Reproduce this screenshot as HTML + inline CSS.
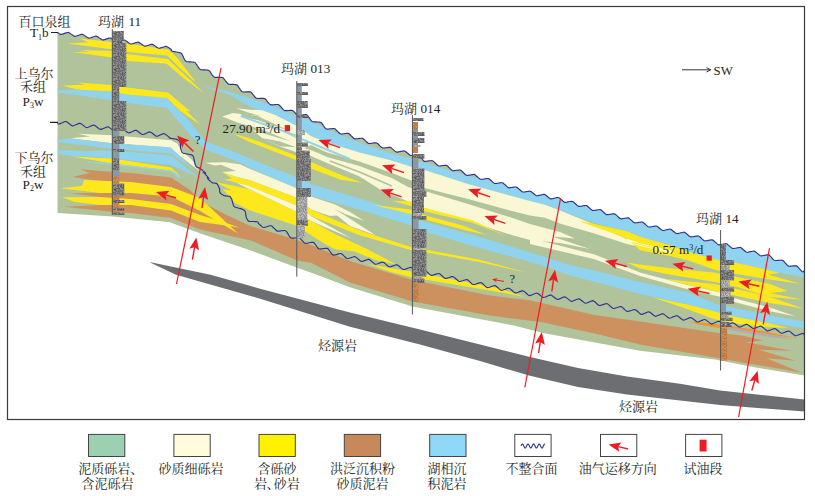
<!DOCTYPE html>
<html><head><meta charset="utf-8"><title>fig</title>
<style>html,body{margin:0;padding:0;background:#fff}svg{display:block}text{font-family:"Liberation Serif",serif;fill:#231f20}text.cjk{font-family:"Liberation Serif","Noto Serif CJK SC",serif;font-size:13px}</style>
</head><body>
<svg width="815" height="496" viewBox="0 0 815 496">
<rect width="815" height="496" fill="#fff"/>
<defs><pattern id="nd" width="12" height="12" patternUnits="userSpaceOnUse"><rect width="12" height="12" fill="#88888a"/><path fill="#5a5a5c" d="M2 0h1v1h-1zM5 0h1v1h-1zM2 1h1v1h-1zM2 2h1v1h-1zM3 2h1v1h-1zM4 3h1v1h-1zM1 4h1v1h-1zM1 5h1v1h-1zM3 5h1v1h-1zM6 5h1v1h-1zM10 5h1v1h-1zM0 6h1v1h-1zM1 7h1v1h-1zM8 8h1v1h-1zM11 8h1v1h-1zM6 9h1v1h-1zM7 9h1v1h-1zM7 10h1v1h-1z"/><path fill="#66666a" d="M7 0h1v1h-1zM0 1h1v1h-1zM9 1h1v1h-1zM10 3h1v1h-1zM3 4h1v1h-1zM3 6h1v1h-1zM10 6h1v1h-1zM3 7h1v1h-1zM10 7h1v1h-1zM3 8h1v1h-1zM9 8h1v1h-1zM2 10h1v1h-1zM10 11h1v1h-1z"/><path fill="#727274" d="M6 0h1v1h-1zM6 1h1v1h-1zM8 1h1v1h-1zM10 1h1v1h-1zM0 2h1v1h-1zM1 2h1v1h-1zM6 2h1v1h-1zM7 2h1v1h-1zM0 3h1v1h-1zM7 3h1v1h-1zM8 3h1v1h-1zM9 4h1v1h-1zM0 5h1v1h-1zM1 6h1v1h-1zM7 7h1v1h-1zM2 8h1v1h-1zM4 8h1v1h-1zM7 8h1v1h-1zM5 9h1v1h-1zM11 9h1v1h-1zM0 10h1v1h-1zM3 10h1v1h-1zM6 10h1v1h-1zM10 10h1v1h-1zM0 11h1v1h-1zM9 11h1v1h-1z"/><path fill="#7c7c7e" d="M4 0h1v1h-1zM10 0h1v1h-1zM1 1h1v1h-1zM3 1h1v1h-1zM4 2h1v1h-1zM5 2h1v1h-1zM10 2h1v1h-1zM11 2h1v1h-1zM1 3h1v1h-1zM2 6h1v1h-1zM4 6h1v1h-1zM4 7h1v1h-1zM0 9h1v1h-1zM10 9h1v1h-1z"/><path fill="#88888a" d="M0 0h1v1h-1zM5 1h1v1h-1zM8 2h1v1h-1zM3 3h1v1h-1zM9 3h1v1h-1zM0 4h1v1h-1zM4 4h1v1h-1zM6 4h1v1h-1zM2 5h1v1h-1zM8 6h1v1h-1zM0 7h1v1h-1zM9 7h1v1h-1zM11 7h1v1h-1zM1 8h1v1h-1zM5 8h1v1h-1zM2 9h1v1h-1zM9 10h1v1h-1zM5 11h1v1h-1zM6 11h1v1h-1z"/><path fill="#949496" d="M1 0h1v1h-1zM8 0h1v1h-1zM9 2h1v1h-1zM5 3h1v1h-1zM11 3h1v1h-1zM2 4h1v1h-1zM5 4h1v1h-1zM8 4h1v1h-1zM4 5h1v1h-1zM8 5h1v1h-1zM6 6h1v1h-1zM7 6h1v1h-1zM11 6h1v1h-1zM5 7h1v1h-1zM6 7h1v1h-1zM8 7h1v1h-1zM0 8h1v1h-1zM1 9h1v1h-1zM9 9h1v1h-1zM5 10h1v1h-1zM3 11h1v1h-1z"/><path fill="#6c6c6e" d="M11 0h1v1h-1zM4 1h1v1h-1zM7 1h1v1h-1zM2 3h1v1h-1zM6 3h1v1h-1zM5 5h1v1h-1zM7 5h1v1h-1zM9 5h1v1h-1zM2 7h1v1h-1zM10 8h1v1h-1zM4 9h1v1h-1zM1 10h1v1h-1zM4 10h1v1h-1zM8 10h1v1h-1zM8 11h1v1h-1zM11 11h1v1h-1z"/><path fill="#787878" d="M3 0h1v1h-1zM9 0h1v1h-1zM11 1h1v1h-1zM7 4h1v1h-1zM10 4h1v1h-1zM11 4h1v1h-1zM11 5h1v1h-1zM5 6h1v1h-1zM9 6h1v1h-1zM6 8h1v1h-1zM3 9h1v1h-1zM8 9h1v1h-1zM11 10h1v1h-1zM1 11h1v1h-1zM2 11h1v1h-1zM4 11h1v1h-1zM7 11h1v1h-1z"/></pattern><pattern id="nl" width="12" height="12" patternUnits="userSpaceOnUse"><rect width="12" height="12" fill="#b2b2b4"/><path fill="#8e8e90" d="M7 0h1v1h-1zM0 1h1v1h-1zM5 1h1v1h-1zM4 2h1v1h-1zM5 2h1v1h-1zM9 2h1v1h-1zM1 3h1v1h-1zM8 3h1v1h-1zM2 4h1v1h-1zM5 4h1v1h-1zM7 4h1v1h-1zM11 4h1v1h-1zM3 5h1v1h-1zM5 5h1v1h-1zM6 5h1v1h-1zM11 5h1v1h-1zM0 6h1v1h-1zM3 6h1v1h-1zM5 6h1v1h-1zM11 6h1v1h-1zM3 7h1v1h-1zM10 7h1v1h-1zM11 7h1v1h-1zM9 8h1v1h-1zM10 8h1v1h-1zM5 9h1v1h-1zM1 10h1v1h-1zM3 10h1v1h-1zM0 11h1v1h-1zM4 11h1v1h-1zM6 11h1v1h-1z"/><path fill="#9a9a9c" d="M4 0h1v1h-1zM5 0h1v1h-1zM8 1h1v1h-1zM1 2h1v1h-1zM2 2h1v1h-1zM3 2h1v1h-1zM6 2h1v1h-1zM3 3h1v1h-1zM5 3h1v1h-1zM10 3h1v1h-1zM3 4h1v1h-1zM10 4h1v1h-1zM0 5h1v1h-1zM8 5h1v1h-1zM9 5h1v1h-1zM1 6h1v1h-1zM9 6h1v1h-1zM1 7h1v1h-1zM6 7h1v1h-1zM7 7h1v1h-1zM4 8h1v1h-1zM1 9h1v1h-1zM2 9h1v1h-1zM7 10h1v1h-1zM9 10h1v1h-1zM7 11h1v1h-1zM8 11h1v1h-1z"/><path fill="#a6a6a8" d="M2 0h1v1h-1zM3 0h1v1h-1zM8 0h1v1h-1zM1 1h1v1h-1zM2 3h1v1h-1zM9 3h1v1h-1zM0 4h1v1h-1zM1 4h1v1h-1zM10 5h1v1h-1zM0 8h1v1h-1zM6 8h1v1h-1zM7 9h1v1h-1zM2 10h1v1h-1zM5 10h1v1h-1zM3 11h1v1h-1zM10 11h1v1h-1zM11 11h1v1h-1z"/><path fill="#b2b2b4" d="M0 0h1v1h-1zM10 0h1v1h-1zM7 1h1v1h-1zM10 1h1v1h-1zM0 2h1v1h-1zM11 2h1v1h-1zM7 3h1v1h-1zM11 3h1v1h-1zM6 4h1v1h-1zM8 4h1v1h-1zM9 4h1v1h-1zM1 5h1v1h-1zM7 6h1v1h-1zM10 6h1v1h-1zM0 7h1v1h-1zM0 9h1v1h-1zM6 10h1v1h-1zM8 10h1v1h-1zM1 11h1v1h-1zM5 11h1v1h-1zM9 11h1v1h-1z"/><path fill="#bebec0" d="M1 0h1v1h-1zM9 0h1v1h-1zM11 0h1v1h-1zM2 1h1v1h-1zM3 1h1v1h-1zM7 2h1v1h-1zM8 2h1v1h-1zM4 5h1v1h-1zM7 5h1v1h-1zM2 6h1v1h-1zM4 6h1v1h-1zM6 6h1v1h-1zM8 6h1v1h-1zM5 7h1v1h-1zM8 7h1v1h-1zM1 8h1v1h-1zM3 8h1v1h-1zM8 8h1v1h-1zM3 9h1v1h-1zM4 9h1v1h-1zM9 9h1v1h-1zM10 9h1v1h-1zM11 9h1v1h-1zM4 10h1v1h-1zM10 10h1v1h-1zM2 11h1v1h-1z"/><path fill="#a0a0a2" d="M6 0h1v1h-1zM4 1h1v1h-1zM6 1h1v1h-1zM9 1h1v1h-1zM11 1h1v1h-1zM10 2h1v1h-1zM0 3h1v1h-1zM4 3h1v1h-1zM6 3h1v1h-1zM4 4h1v1h-1zM2 5h1v1h-1zM2 7h1v1h-1zM4 7h1v1h-1zM9 7h1v1h-1zM2 8h1v1h-1zM5 8h1v1h-1zM7 8h1v1h-1zM11 8h1v1h-1zM6 9h1v1h-1zM8 9h1v1h-1zM0 10h1v1h-1zM11 10h1v1h-1z"/></pattern><pattern id="no" width="12" height="12" patternUnits="userSpaceOnUse"><rect width="12" height="12" fill="#cc8a50"/><path fill="#b87840" d="M0 1h1v1h-1zM4 1h1v1h-1zM6 1h1v1h-1zM1 2h1v1h-1zM3 2h1v1h-1zM4 2h1v1h-1zM5 2h1v1h-1zM9 2h1v1h-1zM7 3h1v1h-1zM8 3h1v1h-1zM1 4h1v1h-1zM7 4h1v1h-1zM8 4h1v1h-1zM10 4h1v1h-1zM0 5h1v1h-1zM3 5h1v1h-1zM4 5h1v1h-1zM5 5h1v1h-1zM8 5h1v1h-1zM1 6h1v1h-1zM6 6h1v1h-1zM9 6h1v1h-1zM11 6h1v1h-1zM2 7h1v1h-1zM3 7h1v1h-1zM4 7h1v1h-1zM4 8h1v1h-1zM8 8h1v1h-1zM0 9h1v1h-1zM6 9h1v1h-1zM7 9h1v1h-1zM0 10h1v1h-1zM5 10h1v1h-1zM6 10h1v1h-1zM7 10h1v1h-1zM11 10h1v1h-1z"/><path fill="#c4824a" d="M6 0h1v1h-1zM7 0h1v1h-1zM11 0h1v1h-1zM3 1h1v1h-1zM11 1h1v1h-1zM6 2h1v1h-1zM7 2h1v1h-1zM2 3h1v1h-1zM4 3h1v1h-1zM4 4h1v1h-1zM6 5h1v1h-1zM7 5h1v1h-1zM3 6h1v1h-1zM0 7h1v1h-1zM1 7h1v1h-1zM7 7h1v1h-1zM9 7h1v1h-1zM0 8h1v1h-1zM1 8h1v1h-1zM7 8h1v1h-1zM1 9h1v1h-1zM2 9h1v1h-1zM8 9h1v1h-1zM9 9h1v1h-1zM8 10h1v1h-1zM10 10h1v1h-1zM5 11h1v1h-1zM9 11h1v1h-1zM11 11h1v1h-1z"/><path fill="#cc8a50" d="M2 1h1v1h-1zM11 2h1v1h-1zM5 3h1v1h-1zM10 3h1v1h-1zM2 4h1v1h-1zM3 4h1v1h-1zM6 4h1v1h-1zM1 5h1v1h-1zM4 6h1v1h-1zM5 6h1v1h-1zM7 6h1v1h-1zM8 6h1v1h-1zM9 8h1v1h-1zM11 8h1v1h-1zM11 9h1v1h-1zM2 10h1v1h-1zM3 10h1v1h-1zM1 11h1v1h-1zM2 11h1v1h-1z"/><path fill="#c07e44" d="M0 0h1v1h-1zM2 0h1v1h-1zM3 0h1v1h-1zM9 0h1v1h-1zM1 1h1v1h-1zM8 1h1v1h-1zM9 1h1v1h-1zM10 2h1v1h-1zM0 3h1v1h-1zM6 3h1v1h-1zM9 3h1v1h-1zM11 3h1v1h-1zM11 4h1v1h-1zM2 5h1v1h-1zM9 5h1v1h-1zM10 5h1v1h-1zM11 5h1v1h-1zM0 6h1v1h-1zM10 6h1v1h-1zM5 7h1v1h-1zM6 7h1v1h-1zM10 7h1v1h-1zM2 8h1v1h-1zM3 8h1v1h-1zM5 8h1v1h-1zM6 8h1v1h-1zM3 9h1v1h-1zM10 9h1v1h-1zM4 10h1v1h-1zM4 11h1v1h-1zM7 11h1v1h-1zM10 11h1v1h-1z"/><path fill="#d09058" d="M1 0h1v1h-1zM4 0h1v1h-1zM5 0h1v1h-1zM8 0h1v1h-1zM10 0h1v1h-1zM5 1h1v1h-1zM7 1h1v1h-1zM10 1h1v1h-1zM0 2h1v1h-1zM2 2h1v1h-1zM8 2h1v1h-1zM1 3h1v1h-1zM3 3h1v1h-1zM0 4h1v1h-1zM5 4h1v1h-1zM9 4h1v1h-1zM2 6h1v1h-1zM8 7h1v1h-1zM11 7h1v1h-1zM10 8h1v1h-1zM4 9h1v1h-1zM5 9h1v1h-1zM1 10h1v1h-1zM9 10h1v1h-1zM0 11h1v1h-1zM3 11h1v1h-1zM6 11h1v1h-1zM8 11h1v1h-1z"/></pattern></defs>
<clipPath id="body"><polygon points="57.5,32.5 58.2,32.9 58.8,33.4 59.5,33.8 60.1,34.2 60.8,34.4 61.5,34.4 62.3,34.2 63.0,33.9 63.8,33.7 64.5,33.4 65.3,33.1 66.0,32.9 66.8,32.7 67.5,32.5 68.2,32.4 68.9,32.7 69.6,33.1 70.2,33.5 70.9,33.9 71.5,34.4 72.2,34.8 72.9,35.3 73.5,35.7 74.2,36.1 74.9,36.3 75.6,36.2 76.3,36.0 77.1,35.8 77.8,35.5 78.6,35.2 79.3,35.0 80.1,34.7 80.8,34.5 81.6,34.3 82.3,34.3 83.0,34.5 83.6,34.9 84.3,35.4 84.9,35.8 85.6,36.2 86.3,36.7 86.9,37.1 87.6,37.6 88.2,37.9 88.9,38.1 89.6,38.0 90.4,37.8 91.1,37.6 91.9,37.3 92.6,37.1 93.4,36.8 94.1,36.5 94.9,36.3 95.6,36.1 96.3,36.1 97.0,36.4 97.7,36.8 98.3,37.2 99.0,37.7 99.6,38.1 100.3,38.6 101.0,39.0 101.6,39.4 102.3,39.8 103.0,39.9 103.7,39.9 104.4,39.6 105.2,39.4 105.9,39.1 106.7,38.9 107.4,38.6 108.2,38.4 108.9,38.1 109.7,38.0 110.4,38.0 111.1,38.3 111.7,38.7 112.4,39.1 113.0,39.5 113.7,40.0 114.3,40.5 115.0,40.9 115.6,41.3 116.3,41.7 116.9,41.9 117.7,41.8 118.4,41.6 119.1,41.4 119.9,41.1 120.6,40.9 121.4,40.7 122.1,40.4 122.9,40.2 123.6,40.0 124.3,40.0 125.0,40.3 125.6,40.7 126.3,41.1 126.9,41.6 127.5,42.0 128.2,42.5 128.8,42.9 129.5,43.4 130.1,43.7 130.8,44.0 131.5,44.0 132.2,43.8 133.0,43.6 133.7,43.3 134.5,43.1 135.2,42.8 135.9,42.6 136.7,42.4 137.4,42.2 138.1,42.1 138.8,42.4 139.5,42.7 140.1,43.2 140.8,43.6 141.4,44.1 142.0,44.5 142.7,45.0 143.3,45.4 144.0,45.8 144.6,46.1 145.3,46.1 146.1,46.0 146.8,45.7 147.5,45.5 148.3,45.3 149.0,45.0 149.8,44.8 150.5,44.5 151.3,44.4 152.0,44.3 152.7,44.4 153.3,44.8 154.0,45.2 154.6,45.6 155.3,46.1 155.9,46.5 156.5,47.0 157.2,47.4 157.8,47.8 158.5,48.2 159.2,48.2 159.9,48.1 160.6,47.9 161.4,47.7 162.1,47.4 162.9,47.2 163.6,47.0 164.4,46.7 165.1,46.5 165.8,46.4 166.5,46.5 167.1,46.8 167.8,47.2 168.5,47.6 169.2,48.1 169.8,48.5 170.5,49.0 171.2,49.4 171.1,49.8 171.5,50.5 172.0,51.0 172.7,51.3 173.4,51.5 174.2,51.6 175.0,51.8 175.8,51.9 176.6,52.0 177.4,52.2 178.2,52.3 179.0,52.5 179.8,52.6 180.5,52.9 181.1,53.2 181.6,53.7 182.1,54.4 182.4,55.1 182.8,55.8 183.1,56.6 183.5,57.3 183.8,58.0 184.2,58.8 184.5,59.5 184.9,60.2 185.5,60.8 186.1,61.3 186.8,61.6 187.5,61.7 188.4,61.8 189.2,61.9 190.0,61.9 190.8,61.9 191.6,62.0 192.5,62.0 193.3,62.1 194.1,62.2 194.8,62.4 195.4,62.9 195.9,63.5 196.3,64.1 196.8,64.8 197.2,65.5 197.7,66.2 198.1,66.9 198.6,67.6 199.0,68.2 199.5,68.8 200.0,69.3 200.7,69.6 201.4,69.7 202.2,69.8 203.0,69.9 203.8,69.9 204.6,69.9 205.4,69.9 206.2,70.0 207.0,70.0 207.7,70.1 208.5,70.3 209.1,70.6 209.6,71.1 210.1,71.7 210.5,72.4 211.0,73.1 211.4,73.7 211.8,74.4 212.3,75.1 212.8,75.7 213.3,76.3 213.8,76.8 214.5,77.2 215.2,77.4 216.0,77.4 216.8,77.4 217.6,77.4 218.4,77.4 219.2,77.4 220.0,77.4 220.8,77.4 221.6,77.4 222.3,77.5 223.0,77.8 223.5,78.3 224.0,78.9 224.5,79.5 225.0,80.1 225.5,80.8 226.0,81.4 226.5,82.1 227.0,82.7 227.5,83.3 228.0,83.8 228.7,84.1 229.3,84.2 230.1,84.3 230.9,84.3 231.7,84.4 232.5,84.4 233.3,84.4 234.1,84.5 234.9,84.5 235.6,84.6 236.4,84.7 237.0,85.0 237.6,85.5 238.0,86.2 238.5,86.8 238.9,87.5 239.4,88.1 239.8,88.8 240.2,89.5 240.7,90.1 241.1,90.8 241.8,91.4 242.4,91.8 243.1,91.9 243.8,92.0 244.6,92.0 245.4,91.9 246.2,91.9 247.0,91.9 247.8,91.9 248.6,91.8 249.4,91.8 250.2,91.9 250.8,92.1 251.4,92.6 251.9,93.2 252.4,93.8 252.9,94.4 253.4,95.0 253.9,95.7 254.4,96.3 254.9,96.9 255.4,97.5 256.0,98.0 256.6,98.3 257.3,98.4 258.1,98.5 258.9,98.5 259.7,98.4 260.5,98.4 261.3,98.4 262.1,98.3 262.9,98.3 263.7,98.4 264.4,98.5 265.0,98.8 265.6,99.3 266.1,99.9 266.6,100.5 267.1,101.1 267.6,101.8 268.1,102.4 268.6,103.0 269.1,103.6 269.7,104.1 270.3,104.6 271.0,104.8 271.7,104.8 272.5,104.8 273.3,104.7 274.1,104.7 274.9,104.6 275.7,104.5 276.5,104.5 277.3,104.5 278.1,104.5 278.8,104.7 279.3,105.2 279.9,105.7 280.4,106.3 280.9,106.9 281.5,107.5 282.0,108.1 282.5,108.7 283.0,109.3 283.6,109.9 284.2,110.3 284.8,110.6 285.6,110.6 286.4,110.6 287.2,110.6 288.0,110.5 288.8,110.5 289.6,110.4 290.4,110.3 291.2,110.3 291.9,110.3 292.6,110.5 293.2,110.9 293.8,111.4 294.3,112.0 294.9,112.6 295.4,113.2 295.9,113.8 296.6,114.4 297.2,114.9 297.9,115.3 298.6,115.7 299.3,115.8 300.1,115.6 300.9,115.5 301.7,115.3 302.5,115.1 303.3,114.9 304.1,114.7 305.3,114.5 306.0,114.6 306.7,114.8 307.3,115.2 307.8,115.8 308.3,116.4 308.7,117.0 309.2,117.7 309.6,118.3 310.1,119.0 310.5,119.6 311.0,120.3 311.4,120.9 312.0,121.4 312.6,121.7 313.3,121.8 314.1,121.9 314.9,121.9 315.7,121.9 316.5,121.9 317.3,122.0 318.0,122.0 318.8,122.0 319.6,122.1 320.3,122.2 321.0,122.5 321.5,123.0 322.0,123.6 322.4,124.2 322.9,124.8 323.3,125.5 323.8,126.1 324.2,126.8 324.7,127.4 325.2,128.1 325.6,128.6 326.5,129.0 327.2,129.1 328.0,129.1 328.7,129.0 329.5,128.9 330.3,128.8 331.1,128.7 331.8,128.7 332.6,128.6 333.4,128.5 334.1,128.5 334.8,128.7 335.4,129.2 335.9,129.7 336.5,130.2 337.0,130.8 337.6,131.3 338.1,131.9 338.7,132.5 339.2,133.0 339.8,133.5 340.4,133.9 341.1,134.0 341.9,134.0 342.6,133.9 343.4,133.8 344.2,133.7 345.0,133.6 345.8,133.5 346.5,133.4 347.3,133.4 348.0,133.4 348.7,133.6 349.3,134.0 349.9,134.5 350.4,135.0 351.0,135.6 351.5,136.2 352.1,136.7 352.6,137.3 353.2,137.8 353.8,138.3 354.4,138.7 355.1,138.9 355.8,138.9 356.6,138.8 357.3,138.7 358.1,138.6 358.9,138.5 359.7,138.4 360.4,138.3 361.2,138.2 362.0,138.2 362.6,138.4 363.3,138.8 363.8,139.3 364.4,139.8 365.0,140.3 365.5,140.9 366.1,141.4 366.7,142.0 367.3,142.5 367.8,143.0 368.5,143.4 369.2,143.5 369.9,143.5 370.7,143.4 371.5,143.3 372.3,143.2 373.0,143.0 373.8,142.9 374.6,142.8 375.4,142.8 376.1,142.8 376.8,143.0 377.4,143.4 378.0,143.9 378.5,144.5 379.1,145.0 379.7,145.6 380.2,146.1 380.8,146.6 381.4,147.2 382.0,147.6 382.6,148.0 383.3,148.0 384.1,148.0 384.8,147.9 385.6,147.8 386.4,147.7 387.2,147.6 388.0,147.5 388.7,147.4 389.5,147.3 390.2,147.3 390.9,147.6 391.5,148.1 392.0,148.6 392.6,149.1 393.2,149.6 393.8,150.1 394.4,150.6 395.0,151.1 395.7,151.6 396.3,151.9 397.0,152.1 397.7,152.1 398.5,151.9 399.3,151.8 400.0,151.6 400.8,151.4 401.6,151.3 402.3,151.1 403.1,151.0 403.9,150.9 404.6,151.0 405.2,151.4 405.8,151.8 406.4,152.3 407.0,152.8 407.6,153.3 408.3,153.8 408.9,154.3 409.5,154.8 410.1,155.2 410.8,155.5 411.5,155.5 412.1,155.4 412.8,155.4 413.6,155.3 414.4,155.3 415.2,155.2 416.0,155.2 416.8,155.2 417.5,155.1 418.3,155.2 418.9,155.5 419.5,156.0 420.0,156.5 420.5,157.1 421.0,157.7 421.5,158.3 422.0,158.9 422.5,159.5 423.0,160.1 423.5,160.7 424.2,161.1 424.9,161.3 425.6,161.3 426.4,161.2 427.2,161.1 428.0,161.0 428.7,160.9 429.5,160.8 430.3,160.7 431.0,160.7 431.8,160.6 432.5,160.7 433.1,161.1 433.7,161.6 434.3,162.1 434.8,162.6 435.4,163.2 435.9,163.8 436.5,164.3 437.1,164.8 437.6,165.3 438.2,165.8 438.9,166.0 439.6,166.0 440.4,165.9 441.2,165.8 441.9,165.7 442.7,165.6 443.5,165.5 444.3,165.4 445.0,165.3 445.8,165.3 446.5,165.4 447.1,165.8 447.7,166.3 448.3,166.8 448.8,167.3 449.4,167.9 449.9,168.4 450.5,169.0 451.0,169.5 451.6,170.0 452.2,170.5 452.9,170.7 453.6,170.7 454.4,170.6 455.2,170.5 455.9,170.4 456.7,170.3 457.5,170.2 458.3,170.1 459.0,170.0 459.8,170.0 460.5,170.1 461.1,170.5 461.7,170.9 462.2,171.5 462.8,172.0 463.4,172.6 463.9,173.1 464.5,173.7 465.0,174.2 465.6,174.7 466.2,175.1 466.9,175.4 467.7,175.4 468.4,175.3 469.2,175.1 470.0,175.0 470.8,174.9 471.6,174.7 472.3,174.6 473.1,174.5 473.9,174.4 474.6,174.6 475.2,175.0 475.8,175.4 476.4,176.0 477.0,176.5 477.6,177.0 478.2,177.6 478.8,178.1 479.4,178.6 480.0,179.0 480.7,179.3 481.4,179.4 482.2,179.3 482.9,179.2 483.7,179.1 484.5,178.9 485.3,178.8 486.1,178.7 486.8,178.5 487.6,178.5 488.3,178.5 489.0,178.8 489.6,179.3 490.2,179.8 490.8,180.3 491.4,180.8 492.0,181.4 492.5,181.9 493.1,182.4 493.7,182.9 494.3,183.3 495.0,183.5 495.8,183.5 496.5,183.4 497.3,183.3 498.1,183.2 498.9,183.0 499.6,182.9 500.4,182.8 501.2,182.7 501.9,182.7 502.6,182.8 503.3,183.2 503.8,183.7 504.4,184.2 505.0,184.8 505.6,185.3 506.2,185.8 506.7,186.4 507.3,186.9 507.9,187.4 508.6,187.7 509.3,187.8 510.0,187.7 510.8,187.6 511.6,187.5 512.4,187.4 513.1,187.3 513.9,187.1 514.7,187.0 515.4,187.0 516.2,187.0 516.9,187.2 517.5,187.7 518.0,188.2 518.6,188.7 519.2,189.2 519.8,189.8 520.4,190.3 520.9,190.8 521.5,191.3 522.1,191.8 522.8,192.0 523.5,192.0 524.3,192.0 525.1,191.9 525.8,191.7 526.6,191.6 527.4,191.5 528.2,191.4 529.0,191.3 529.7,191.2 530.3,191.3 531.0,191.6 531.6,192.0 532.2,192.5 532.9,193.0 533.5,193.5 534.1,194.0 534.7,194.5 535.3,194.9 536.0,195.4 536.6,195.7 537.4,195.7 538.1,195.6 538.9,195.4 539.7,195.2 540.4,195.1 541.2,194.9 542.0,194.7 542.7,194.5 543.5,194.4 544.2,194.4 544.9,194.6 545.5,195.0 546.2,195.5 546.8,196.0 547.4,196.5 548.0,197.0 548.6,197.5 549.3,198.0 549.9,198.4 550.5,198.8 551.3,198.8 552.0,198.7 552.8,198.6 553.6,198.4 554.3,198.2 555.1,198.0 555.9,197.8 556.6,197.6 557.4,197.5 558.1,197.5 558.8,197.7 559.5,198.1 560.1,198.6 560.7,199.1 561.3,199.6 561.9,200.1 562.5,200.6 563.0,201.2 563.6,201.6 564.2,202.0 564.9,202.3 565.6,202.3 566.4,202.2 567.2,202.1 567.9,201.9 568.7,201.8 569.5,201.7 570.2,201.5 571.0,201.4 571.7,201.4 572.4,201.5 573.1,201.8 573.7,202.2 574.2,202.7 574.8,203.3 575.4,203.8 576.0,204.3 576.6,204.8 577.1,205.4 577.7,205.8 578.3,206.2 579.0,206.4 579.8,206.4 580.5,206.3 581.3,206.2 582.0,206.0 582.8,205.9 583.6,205.8 584.3,205.6 585.1,205.5 585.9,205.5 586.5,205.6 587.2,206.0 587.8,206.4 588.3,207.0 588.9,207.5 589.5,208.0 590.1,208.5 590.6,209.1 591.2,209.6 591.8,210.0 592.4,210.4 593.1,210.5 593.9,210.5 594.6,210.4 595.4,210.3 596.2,210.1 596.9,210.0 597.7,209.9 598.5,209.7 599.2,209.7 600.0,209.6 600.7,209.8 601.3,210.2 601.9,210.7 602.4,211.2 603.0,211.7 603.6,212.2 604.2,212.7 604.7,213.3 605.3,213.8 605.9,214.2 606.6,214.6 607.3,214.6 608.0,214.6 608.8,214.5 609.5,214.4 610.3,214.2 611.1,214.1 611.8,214.0 612.6,213.9 613.4,213.8 614.1,213.8 614.8,214.0 615.4,214.4 616.0,214.9 616.5,215.4 617.1,215.9 617.7,216.4 618.3,216.9 618.8,217.5 619.4,218.0 620.0,218.4 620.7,218.7 621.4,218.8 622.1,218.7 622.9,218.6 623.7,218.5 624.4,218.3 625.2,218.2 626.0,218.1 626.7,218.0 627.5,217.9 628.2,217.9 628.9,218.1 629.5,218.6 630.0,219.1 630.6,219.6 631.2,220.1 631.8,220.6 632.4,221.2 632.9,221.7 633.5,222.2 634.1,222.6 634.8,222.9 635.5,222.9 636.3,222.8 637.0,222.7 637.8,222.6 638.6,222.4 639.3,222.3 640.1,222.2 640.9,222.1 641.6,222.0 642.3,222.0 643.0,222.3 643.6,222.8 644.1,223.3 644.7,223.8 645.3,224.3 645.9,224.8 646.4,225.4 647.0,225.9 647.6,226.4 648.2,226.8 648.9,227.0 649.6,227.0 650.4,226.9 651.1,226.8 651.9,226.7 652.7,226.5 653.4,226.4 654.2,226.3 654.9,226.1 655.7,226.0 656.4,226.0 657.0,226.3 657.7,226.8 658.3,227.2 658.9,227.7 659.5,228.2 660.1,228.7 660.7,229.2 661.3,229.7 662.0,230.1 662.6,230.4 663.3,230.5 664.1,230.4 664.8,230.2 665.6,230.0 666.4,229.8 667.1,229.6 667.9,229.5 668.7,229.3 669.4,229.2 670.1,229.1 670.8,229.3 671.4,229.7 672.1,230.2 672.7,230.7 673.3,231.2 673.9,231.7 674.5,232.2 675.1,232.7 675.7,233.1 676.4,233.5 677.1,233.6 677.8,233.5 678.6,233.4 679.3,233.2 680.1,233.0 680.9,232.8 681.6,232.7 682.4,232.5 683.2,232.3 683.9,232.2 684.6,232.4 685.2,232.7 685.9,233.2 686.5,233.7 687.1,234.2 687.7,234.7 688.3,235.1 688.9,235.7 689.5,236.2 690.1,236.6 690.7,236.9 691.5,236.9 692.2,236.8 693.0,236.7 693.8,236.6 694.6,236.4 695.4,236.3 696.1,236.1 696.9,236.0 697.7,235.9 698.4,236.0 699.0,236.3 699.6,236.8 700.2,237.3 700.8,237.8 701.4,238.3 702.0,238.9 702.6,239.4 703.2,239.9 703.8,240.4 704.4,240.7 705.2,240.9 705.9,240.8 706.7,240.7 707.5,240.6 708.2,240.4 709.0,240.3 709.8,240.1 710.6,240.0 711.3,239.9 712.1,239.9 712.8,240.1 713.4,240.5 714.0,241.0 714.6,241.5 715.2,242.1 715.8,242.6 716.4,243.1 716.9,243.6 717.5,244.1 718.2,244.6 718.8,244.8 719.6,244.8 720.4,244.7 721.1,244.6 721.9,244.4 722.7,244.3 723.4,244.1 724.2,244.0 725.0,243.8 725.7,243.7 726.4,243.8 727.1,244.1 727.7,244.6 728.3,245.1 728.9,245.6 729.5,246.1 730.1,246.6 730.7,247.1 731.3,247.6 731.9,248.1 732.5,248.4 733.2,248.5 734.0,248.5 734.7,248.3 735.5,248.2 736.3,248.0 737.0,247.9 737.8,247.7 738.6,247.6 739.3,247.5 740.1,247.4 740.7,247.6 741.4,248.0 742.0,248.5 742.6,249.0 743.1,249.5 743.7,250.0 744.3,250.5 744.9,251.0 745.5,251.5 746.2,251.9 746.8,252.2 747.5,252.2 748.3,252.1 749.1,251.9 749.8,251.8 750.6,251.6 751.4,251.5 752.1,251.3 752.9,251.2 753.7,251.1 754.4,251.2 755.0,251.5 755.6,251.9 756.2,252.4 756.8,252.9 757.4,253.4 758.0,253.9 758.6,254.4 759.2,254.9 759.8,255.4 760.5,255.8 761.1,255.9 761.9,255.8 762.7,255.7 763.4,255.5 764.2,255.4 765.0,255.2 765.7,255.1 766.5,254.9 767.3,254.8 768.0,254.8 768.7,254.9 769.5,255.3 770.0,255.9 770.6,256.4 771.1,257.0 771.6,257.6 772.1,258.2 772.7,258.8 773.2,259.4 773.7,259.9 774.3,260.3 775.0,260.5 775.8,260.5 776.6,260.5 777.4,260.4 778.1,260.4 778.9,260.3 779.7,260.2 780.5,260.2 781.3,260.1 782.0,260.2 782.7,260.4 783.3,260.8 783.9,261.3 784.4,261.9 784.9,262.5 785.4,263.1 786.0,263.7 786.5,264.3 787.0,264.9 787.6,265.4 788.2,265.9 788.8,266.1 789.6,266.2 790.3,266.1 791.1,266.1 791.9,266.0 792.7,265.9 793.5,265.9 794.3,265.8 795.1,265.8 795.8,265.8 796.5,265.9 797.2,266.3 797.7,266.8 798.2,267.4 798.8,268.0 799.3,268.6 799.8,269.1 800.3,269.7 800.9,270.3 801.4,270.9 802.0,271.4 802.6,271.7 803.3,271.8 804.5,270.8 804.5,375.5 755.6,367.4 715.0,359.4 640.0,350.7 543.0,333.0 514.0,325.6 412.5,306.5 350.0,287.3 314.0,273.7 297.3,267.7 250.9,250.5 200.4,233.4 170.0,222.3 112.5,216.5 57.5,212.9"/></clipPath>
<g clip-path="url(#body)">
<polygon fill="#b0c39b" points="50.0,20.0 810.0,20.0 810.0,400.0 50.0,400.0" />
<polygon fill="#8fd3ee" points="57.0,90.6 78.0,89.5 112.0,91.6 127.0,94.6 167.2,98.0 190.0,122.0 205.5,141.5 240.0,154.0 249.0,158.2 296.0,177.0 311.0,184.0 359.5,198.4 412.5,214.5 412.5,225.8 359.5,209.7 311.0,196.0 296.0,188.0 249.0,167.5 240.0,162.5 205.5,149.5 190.0,135.0 167.2,108.0 127.0,102.7 112.0,100.6 78.0,95.0 57.0,92.6" />
<polygon fill="#8fd3ee" points="412.5,218.5 419.0,220.0 470.0,234.2 490.0,240.0 519.2,249.0 548.7,258.2 570.0,265.0 594.5,270.5 640.0,282.0 688.4,292.6 715.0,303.5 733.5,307.8 769.0,315.2 804.5,321.4 804.5,328.0 769.0,323.2 733.5,316.4 715.0,311.5 688.4,304.7 640.0,294.0 594.5,281.8 570.0,275.4 548.7,267.4 519.2,258.8 490.0,251.0 470.0,245.3 419.0,229.8 412.5,228.0" />
<polygon fill="#fde81e" points="80.0,38.5 112.0,42.0 127.0,43.5 167.0,49.5 169.0,50.0 177.2,58.1 193.6,79.0 196.0,84.0 195.4,82.6 179.0,67.2 167.2,55.4 127.0,52.0 112.0,49.2 67.0,43.6 88.0,42.2" />
<polygon fill="#fde81e" points="80.0,50.0 112.0,51.0 127.0,54.0 167.0,59.0 168.0,59.3 186.0,76.0 204.4,93.5 184.0,78.5 166.3,63.6 127.0,61.0 112.0,57.5 72.0,52.0 90.0,51.8" />
<polygon fill="#fde81e" points="78.0,82.5 112.0,85.0 127.0,87.5 167.0,92.6 168.0,92.6 190.8,111.7 186.0,110.5 200.8,125.3 180.0,110.8 167.2,98.0 127.0,94.6 112.0,91.6 78.0,89.5 62.0,85.5 85.0,84.8" />
<polygon fill="#8fd3ee" points="201.0,85.4 230.0,92.0 249.0,98.0 274.0,106.0 296.0,115.5 311.0,121.0 327.0,129.2 348.4,138.0 359.5,142.5 391.8,153.4 412.0,159.0 424.7,163.0 468.0,175.8 511.8,185.0 530.0,189.0 545.0,192.0 560.6,196.0 594.5,205.0 626.8,215.0 640.0,219.0 672.3,228.0 689.2,232.0 713.8,238.0 719.8,240.0 736.8,245.0 765.8,253.0 780.0,258.0 804.5,268.0 804.5,277.0 780.0,273.0 765.8,269.5 736.8,263.0 719.8,260.5 713.8,258.9 689.2,252.0 672.3,246.0 640.0,236.8 626.8,231.3 594.5,223.0 560.6,210.8 545.0,204.8 530.0,201.0 511.8,196.0 468.0,184.0 424.7,170.0 412.0,167.0 391.8,160.5 359.5,152.5 348.4,150.3 327.0,142.5 311.0,136.0 296.0,126.5 274.0,115.5 249.0,106.3 230.0,95.0 201.0,85.6" />
<polygon fill="#8fd3ee" points="214.5,87.4 245.0,97.5 245.0,99.5" />
<polygon fill="#faf7d4" points="274.0,114.6 296.0,125.7 311.0,136.0 327.0,142.5 359.5,152.5 391.8,160.5 412.0,167.0 424.7,170.0 468.0,184.0 511.8,196.0 530.0,201.0 545.0,204.8 560.6,210.8 594.5,224.5 626.8,239.0 651.0,249.5 651.0,249.5 626.8,244.0 594.5,233.4 560.6,223.7 545.0,217.7 530.0,215.6 511.8,211.0 468.0,199.0 424.7,188.0 412.0,180.8 391.8,173.0 359.5,161.5 327.0,152.5 311.0,145.0 296.0,152.0 274.0,114.6" />
<polygon fill="#faf7d4" points="274.0,114.6 262.0,110.2 250.0,109.7 236.0,108.3 249.0,112.7 262.0,116.5 233.0,113.0 222.0,116.5 240.0,123.5 251.0,128.5 262.0,138.0 280.0,146.5 296.0,152.0 296.0,125.7" />
<polygon fill="#b0c39b" points="240.0,113.5 258.0,116.3 289.0,130.8 258.0,120.3 244.0,117.2" />
<polygon fill="#b0c39b" points="238.0,122.7 262.0,129.5 291.0,141.5 262.0,133.0 245.0,127.0" />
<polygon fill="#b0c39b" points="262.0,138.0 280.0,141.5 296.0,147.2 280.0,146.3" />
<polyline fill="none" stroke="#b0c39b" stroke-width="1.0" points="268.0,124.0 296.0,137.5"/>
<polyline fill="none" stroke="#8fd3ee" stroke-width="1.9" points="240.6,116.0 296.0,135.6 303.0,139.7 349.8,159.0"/>
<polygon fill="#fde81e" points="233.0,133.7 249.0,138.0 296.0,155.5 311.0,162.0 340.0,174.5 362.7,183.0 340.0,179.5 311.0,168.5 296.0,160.0 249.0,141.7" />
<polygon fill="#faf7d4" points="300.0,147.0 311.0,150.0 327.0,157.0 359.5,166.0 383.3,175.0 391.8,178.0 408.0,187.0 412.5,188.5 424.7,191.0 468.0,204.0 511.8,217.7 530.0,224.0 530.0,240.0 511.8,235.0 468.0,221.0 424.7,208.0 412.5,203.0 408.0,201.6 391.8,194.5 383.3,191.5 359.5,176.5 327.0,163.0 311.0,156.0 300.0,151.0" />
<polyline fill="none" stroke="#b0c39b" stroke-width="1.6" points="330.0,161.0 359.5,172.0 391.8,186.0"/>
<polygon fill="#faf7d4" points="530.0,224.0 560.0,232.0 575.0,238.5 552.0,236.5 590.0,249.0 560.0,243.0 530.0,240.0" />
<polygon fill="#faf7d4" points="530.0,238.0 594.5,254.4 640.0,272.4 688.4,285.3 720.0,292.6 733.5,298.0 769.0,307.2 796.0,316.4 796.0,316.4 769.0,311.0 733.5,301.7 720.0,296.8 688.4,289.4 640.0,276.0 594.5,259.2 530.0,244.0" />
<polygon fill="#fde81e" points="391.8,200.8 412.5,201.6 412.5,206.5" />
<polygon fill="#fde81e" points="372.4,204.8 412.5,209.7 412.5,214.5" />
<polygon fill="#fde81e" points="412.5,205.0 424.7,208.0 471.5,220.0 503.7,234.7 471.5,222.6 424.7,211.3 412.5,208.5" />
<polygon fill="#fde81e" points="412.5,212.5 424.7,215.3 463.4,225.8 486.0,234.7 463.4,229.8 424.7,219.4 412.5,216.5" />
<polygon fill="#fde81e" points="412.5,247.0 421.5,249.0 479.5,259.7 526.3,272.6 479.5,262.0 421.5,251.6 412.5,250.0" />
<polygon fill="#faf7d4" points="205.0,162.8 225.0,162.3 240.0,164.3 249.0,168.5 296.0,188.0 311.0,196.5 335.0,204.5 350.0,212.0 364.0,220.8 345.0,214.0 334.0,208.5 355.0,222.0 375.6,235.3 350.0,226.0 337.0,215.5 330.0,216.0 311.0,209.5 296.0,197.5 249.0,180.0 235.0,176.5 222.0,172.0 236.0,171.0 221.0,164.8 215.0,165.5" />
<polygon fill="#fde81e" points="222.0,172.0 235.0,176.5 249.0,180.0 296.0,197.5 311.0,209.5 359.5,230.5 412.5,247.4 412.5,250.6 359.5,235.3 311.0,216.0 296.0,205.3 249.0,186.0 236.0,182.5 224.0,179.4 232.0,178.5" />
<polygon fill="#faf7d4" points="236.0,182.5 249.0,186.0 296.0,205.3 311.0,216.0 351.5,238.5 311.0,221.0 296.0,211.4 249.0,189.0" />
<polygon fill="#fde81e" points="214.8,181.8 232.0,185.5 249.0,189.0 296.0,211.4 311.0,221.0 335.0,234.0 367.0,249.0 396.3,264.5 375.3,259.7 354.4,251.6 335.0,249.2 325.0,244.0 311.0,235.3 296.0,225.6 249.0,210.0 235.0,203.0 222.8,189.2 232.0,190.5" />
<polygon fill="#fde81e" points="367.0,263.7 390.0,268.0 412.5,271.8 500.0,288.5 525.0,297.0 500.0,292.2 412.5,277.4 390.0,271.8" />
<polygon fill="#fde81e" points="578.0,220.5 594.5,224.0 626.8,231.3 640.0,236.8 672.3,246.0 689.2,252.0 713.8,258.9 719.8,260.5 736.8,263.0 765.8,269.5 780.0,273.0 768.0,274.5 800.0,283.7 770.0,279.5 736.8,274.0 713.8,269.4 689.2,260.8 672.3,256.5 640.0,250.3 626.8,238.5 608.0,231.5 592.0,226.0" />
<polyline fill="none" stroke="#faf7d4" stroke-width="2.6" points="626.8,240.0 640.0,244.8 672.0,252.0"/>
<polyline fill="none" stroke="#fde81e" stroke-width="0.8" points="632.0,242.5 660.0,249.5"/>
<polygon fill="#fde81e" points="626.8,262.4 640.0,264.4 672.0,268.5 713.8,272.4 737.0,277.0 770.0,284.0 787.6,291.0 770.0,293.0 803.0,299.8 770.0,297.0 737.0,287.0 713.8,281.7 672.0,275.0 640.0,268.5" />
<polygon fill="#fde81e" points="665.0,279.0 713.8,284.0 737.0,289.0 770.0,297.0 803.5,308.5 770.0,303.0 737.0,296.0 713.8,291.0" />
<polygon fill="#fde81e" points="653.0,297.5 688.4,304.7 715.0,311.5 733.5,316.4 769.0,323.2 788.8,328.0 755.0,326.5 733.5,323.0 715.0,319.3 688.4,309.5" />
<polygon fill="#faf7d4" points="78.0,133.8 112.5,135.2 171.0,140.3 177.0,143.5 182.0,151.0 192.0,160.0 199.3,171.0 169.0,147.3 112.5,143.3 70.0,138.2 90.0,136.6" />
<polygon fill="#8fd3ee" points="57.0,140.2 70.0,138.4 112.5,143.3 171.0,147.5 196.0,172.0 171.0,153.4 112.5,149.0 90.0,146.0 57.0,142.3" />
<polygon fill="#8fd3ee" points="57.0,150.3 90.0,151.0 112.5,150.5 171.0,155.5 199.0,178.0 171.0,165.0 130.0,160.5 112.5,158.0 72.0,156.0 57.0,153.4" />
<polygon fill="#fde81e" points="72.0,156.4 112.5,158.4 171.0,167.5 181.0,176.6 171.0,170.5 112.5,163.5" />
<polygon fill="#8fd3ee" points="88.0,161.3 112.5,163.5 171.0,170.5 181.0,176.6 179.0,178.5 171.0,172.0 112.5,165.0 88.0,162.5" />
<polygon fill="#cd915f" points="100.0,171.0 112.5,171.5 130.7,173.0 171.0,177.5 190.0,190.0 200.0,201.0 224.6,214.0 249.2,225.6 296.0,239.7 311.0,245.0 350.0,261.0 412.5,280.0 490.0,295.5 530.0,300.3 594.5,315.0 640.0,321.6 715.0,332.4 745.0,336.0 745.7,363.0 715.0,357.6 640.0,344.6 594.5,333.5 541.0,322.0 514.0,318.8 490.0,315.5 412.5,301.5 350.0,282.5 311.0,262.7 297.0,260.6 251.0,240.4 200.0,229.5 171.0,218.0 130.7,213.0 112.5,212.0 100.0,210.5" />
<polygon fill="#cd915f" points="100.0,171.0 80.3,169.3 90.0,173.0 72.2,177.0 100.0,181.0" />
<polygon fill="#cd915f" points="100.0,193.0 70.0,193.3 100.0,197.0" />
<polygon fill="#cd915f" points="100.0,205.0 64.0,206.8 100.0,210.5" />
<polygon fill="#cd915f" points="743.0,335.7 763.0,340.4 745.7,342.2 791.9,350.8 758.0,349.6 795.6,360.7 766.7,358.2 801.0,372.4 743.0,362.6" />
<polygon fill="#fde81e" points="84.3,180.0 130.7,182.0 171.0,187.0 200.0,198.0 238.0,233.6 200.0,211.0 171.0,196.5 130.7,193.0 100.0,193.0 60.0,188.2 82.0,186.0" />
<polygon fill="#fde81e" points="62.0,197.3 100.0,197.0 130.7,199.0 171.0,204.0 200.0,215.0 221.0,221.3 239.4,227.4 215.0,224.0 200.0,222.0 171.0,210.5 130.7,205.0 100.0,205.0 75.0,202.0" />
<polygon fill="#f7941d" points="688.4,321.3 715.0,324.0 755.6,329.8 797.4,338.2 755.6,333.0 715.0,327.2 700.0,324.8" />
<polygon fill="#b3aab5" points="727.0,327.3 733.5,328.0 770.0,334.3 793.7,339.8 770.0,337.0 733.5,330.8 727.0,329.5" />
</g>
<polygon fill="#6d6e71" points="150.6,262.3 210.5,274.7 261.0,289.0 350.0,312.5 420.0,329.5 480.0,344.5 529.0,356.8 578.0,367.9 627.0,376.4 680.0,383.8 720.0,390.5 804.5,399.4 804.5,411.5 720.0,405.0 680.0,400.5 627.0,394.5 578.0,387.0 529.0,375.5 480.0,361.0 420.0,344.6 350.0,326.7 261.0,299.0 176.0,274.7 150.6,262.8" />
<path d="M57.5 32.5 L58.2 32.9 L58.8 33.4 L59.5 33.8 L60.1 34.2 L60.8 34.4 L61.5 34.4 L62.3 34.2 L63.0 33.9 L63.8 33.7 L64.5 33.4 L65.3 33.1 L66.0 32.9 L66.8 32.7 L67.5 32.5 L68.2 32.4 L68.9 32.7 L69.6 33.1 L70.2 33.5 L70.9 33.9 L71.5 34.4 L72.2 34.8 L72.9 35.3 L73.5 35.7 L74.2 36.1 L74.9 36.3 L75.6 36.2 L76.3 36.0 L77.1 35.8 L77.8 35.5 L78.6 35.2 L79.3 35.0 L80.1 34.7 L80.8 34.5 L81.6 34.3 L82.3 34.3 L83.0 34.5 L83.6 34.9 L84.3 35.4 L84.9 35.8 L85.6 36.2 L86.3 36.7 L86.9 37.1 L87.6 37.6 L88.2 37.9 L88.9 38.1 L89.6 38.0 L90.4 37.8 L91.1 37.6 L91.9 37.3 L92.6 37.1 L93.4 36.8 L94.1 36.5 L94.9 36.3 L95.6 36.1 L96.3 36.1 L97.0 36.4 L97.7 36.8 L98.3 37.2 L99.0 37.7 L99.6 38.1 L100.3 38.6 L101.0 39.0 L101.6 39.4 L102.3 39.8 L103.0 39.9 L103.7 39.9 L104.4 39.6 L105.2 39.4 L105.9 39.1 L106.7 38.9 L107.4 38.6 L108.2 38.4 L108.9 38.1 L109.7 38.0 L110.4 38.0 L111.1 38.3 L111.7 38.7 L112.4 39.1 L113.0 39.5 L113.7 40.0 L114.3 40.5 L115.0 40.9 L115.6 41.3 L116.3 41.7 L116.9 41.9 L117.7 41.8 L118.4 41.6 L119.1 41.4 L119.9 41.1 L120.6 40.9 L121.4 40.7 L122.1 40.4 L122.9 40.2 L123.6 40.0 L124.3 40.0 L125.0 40.3 L125.6 40.7 L126.3 41.1 L126.9 41.6 L127.5 42.0 L128.2 42.5 L128.8 42.9 L129.5 43.4 L130.1 43.7 L130.8 44.0 L131.5 44.0 L132.2 43.8 L133.0 43.6 L133.7 43.3 L134.5 43.1 L135.2 42.8 L135.9 42.6 L136.7 42.4 L137.4 42.2 L138.1 42.1 L138.8 42.4 L139.5 42.7 L140.1 43.2 L140.8 43.6 L141.4 44.1 L142.0 44.5 L142.7 45.0 L143.3 45.4 L144.0 45.8 L144.6 46.1 L145.3 46.1 L146.1 46.0 L146.8 45.7 L147.5 45.5 L148.3 45.3 L149.0 45.0 L149.8 44.8 L150.5 44.5 L151.3 44.4 L152.0 44.3 L152.7 44.4 L153.3 44.8 L154.0 45.2 L154.6 45.6 L155.3 46.1 L155.9 46.5 L156.5 47.0 L157.2 47.4 L157.8 47.8 L158.5 48.2 L159.2 48.2 L159.9 48.1 L160.6 47.9 L161.4 47.7 L162.1 47.4 L162.9 47.2 L163.6 47.0 L164.4 46.7 L165.1 46.5 L165.8 46.4 L166.5 46.5 L167.1 46.8 L167.8 47.2 L168.5 47.6 L169.2 48.1 L169.8 48.5 L170.5 49.0 L171.2 49.4 L171.1 49.8 L171.5 50.5 L172.0 51.0 L172.7 51.3 L173.4 51.5 L174.2 51.6 L175.0 51.8 L175.8 51.9 L176.6 52.0 L177.4 52.2 L178.2 52.3 L179.0 52.5 L179.8 52.6 L180.5 52.9 L181.1 53.2 L181.6 53.7 L182.1 54.4 L182.4 55.1 L182.8 55.8 L183.1 56.6 L183.5 57.3 L183.8 58.0 L184.2 58.8 L184.5 59.5 L184.9 60.2 L185.5 60.8 L186.1 61.3 L186.8 61.6 L187.5 61.7 L188.4 61.8 L189.2 61.9 L190.0 61.9 L190.8 61.9 L191.6 62.0 L192.5 62.0 L193.3 62.1 L194.1 62.2 L194.8 62.4 L195.4 62.9 L195.9 63.5 L196.3 64.1 L196.8 64.8 L197.2 65.5 L197.7 66.2 L198.1 66.9 L198.6 67.6 L199.0 68.2 L199.5 68.8 L200.0 69.3 L200.7 69.6 L201.4 69.7 L202.2 69.8 L203.0 69.9 L203.8 69.9 L204.6 69.9 L205.4 69.9 L206.2 70.0 L207.0 70.0 L207.7 70.1 L208.5 70.3 L209.1 70.6 L209.6 71.1 L210.1 71.7 L210.5 72.4 L211.0 73.1 L211.4 73.7 L211.8 74.4 L212.3 75.1 L212.8 75.7 L213.3 76.3 L213.8 76.8 L214.5 77.2 L215.2 77.4 L216.0 77.4 L216.8 77.4 L217.6 77.4 L218.4 77.4 L219.2 77.4 L220.0 77.4 L220.8 77.4 L221.6 77.4 L222.3 77.5 L223.0 77.8 L223.5 78.3 L224.0 78.9 L224.5 79.5 L225.0 80.1 L225.5 80.8 L226.0 81.4 L226.5 82.1 L227.0 82.7 L227.5 83.3 L228.0 83.8 L228.7 84.1 L229.3 84.2 L230.1 84.3 L230.9 84.3 L231.7 84.4 L232.5 84.4 L233.3 84.4 L234.1 84.5 L234.9 84.5 L235.6 84.6 L236.4 84.7 L237.0 85.0 L237.6 85.5 L238.0 86.2 L238.5 86.8 L238.9 87.5 L239.4 88.1 L239.8 88.8 L240.2 89.5 L240.7 90.1 L241.1 90.8 L241.8 91.4 L242.4 91.8 L243.1 91.9 L243.8 92.0 L244.6 92.0 L245.4 91.9 L246.2 91.9 L247.0 91.9 L247.8 91.9 L248.6 91.8 L249.4 91.8 L250.2 91.9 L250.8 92.1 L251.4 92.6 L251.9 93.2 L252.4 93.8 L252.9 94.4 L253.4 95.0 L253.9 95.7 L254.4 96.3 L254.9 96.9 L255.4 97.5 L256.0 98.0 L256.6 98.3 L257.3 98.4 L258.1 98.5 L258.9 98.5 L259.7 98.4 L260.5 98.4 L261.3 98.4 L262.1 98.3 L262.9 98.3 L263.7 98.4 L264.4 98.5 L265.0 98.8 L265.6 99.3 L266.1 99.9 L266.6 100.5 L267.1 101.1 L267.6 101.8 L268.1 102.4 L268.6 103.0 L269.1 103.6 L269.7 104.1 L270.3 104.6 L271.0 104.8 L271.7 104.8 L272.5 104.8 L273.3 104.7 L274.1 104.7 L274.9 104.6 L275.7 104.5 L276.5 104.5 L277.3 104.5 L278.1 104.5 L278.8 104.7 L279.3 105.2 L279.9 105.7 L280.4 106.3 L280.9 106.9 L281.5 107.5 L282.0 108.1 L282.5 108.7 L283.0 109.3 L283.6 109.9 L284.2 110.3 L284.8 110.6 L285.6 110.6 L286.4 110.6 L287.2 110.6 L288.0 110.5 L288.8 110.5 L289.6 110.4 L290.4 110.3 L291.2 110.3 L291.9 110.3 L292.6 110.5 L293.2 110.9 L293.8 111.4 L294.3 112.0 L294.9 112.6 L295.4 113.2 L295.9 113.8 L296.6 114.4 L297.2 114.9 L297.9 115.3 L298.6 115.7 L299.3 115.8 L300.1 115.6 L300.9 115.5 L301.7 115.3 L302.5 115.1 L303.3 114.9 L304.1 114.7 L305.3 114.5 L306.0 114.6 L306.7 114.8 L307.3 115.2 L307.8 115.8 L308.3 116.4 L308.7 117.0 L309.2 117.7 L309.6 118.3 L310.1 119.0 L310.5 119.6 L311.0 120.3 L311.4 120.9 L312.0 121.4 L312.6 121.7 L313.3 121.8 L314.1 121.9 L314.9 121.9 L315.7 121.9 L316.5 121.9 L317.3 122.0 L318.0 122.0 L318.8 122.0 L319.6 122.1 L320.3 122.2 L321.0 122.5 L321.5 123.0 L322.0 123.6 L322.4 124.2 L322.9 124.8 L323.3 125.5 L323.8 126.1 L324.2 126.8 L324.7 127.4 L325.2 128.1 L325.6 128.6 L326.5 129.0 L327.2 129.1 L328.0 129.1 L328.7 129.0 L329.5 128.9 L330.3 128.8 L331.1 128.7 L331.8 128.7 L332.6 128.6 L333.4 128.5 L334.1 128.5 L334.8 128.7 L335.4 129.2 L335.9 129.7 L336.5 130.2 L337.0 130.8 L337.6 131.3 L338.1 131.9 L338.7 132.5 L339.2 133.0 L339.8 133.5 L340.4 133.9 L341.1 134.0 L341.9 134.0 L342.6 133.9 L343.4 133.8 L344.2 133.7 L345.0 133.6 L345.8 133.5 L346.5 133.4 L347.3 133.4 L348.0 133.4 L348.7 133.6 L349.3 134.0 L349.9 134.5 L350.4 135.0 L351.0 135.6 L351.5 136.2 L352.1 136.7 L352.6 137.3 L353.2 137.8 L353.8 138.3 L354.4 138.7 L355.1 138.9 L355.8 138.9 L356.6 138.8 L357.3 138.7 L358.1 138.6 L358.9 138.5 L359.7 138.4 L360.4 138.3 L361.2 138.2 L362.0 138.2 L362.6 138.4 L363.3 138.8 L363.8 139.3 L364.4 139.8 L365.0 140.3 L365.5 140.9 L366.1 141.4 L366.7 142.0 L367.3 142.5 L367.8 143.0 L368.5 143.4 L369.2 143.5 L369.9 143.5 L370.7 143.4 L371.5 143.3 L372.3 143.2 L373.0 143.0 L373.8 142.9 L374.6 142.8 L375.4 142.8 L376.1 142.8 L376.8 143.0 L377.4 143.4 L378.0 143.9 L378.5 144.5 L379.1 145.0 L379.7 145.6 L380.2 146.1 L380.8 146.6 L381.4 147.2 L382.0 147.6 L382.6 148.0 L383.3 148.0 L384.1 148.0 L384.8 147.9 L385.6 147.8 L386.4 147.7 L387.2 147.6 L388.0 147.5 L388.7 147.4 L389.5 147.3 L390.2 147.3 L390.9 147.6 L391.5 148.1 L392.0 148.6 L392.6 149.1 L393.2 149.6 L393.8 150.1 L394.4 150.6 L395.0 151.1 L395.7 151.6 L396.3 151.9 L397.0 152.1 L397.7 152.1 L398.5 151.9 L399.3 151.8 L400.0 151.6 L400.8 151.4 L401.6 151.3 L402.3 151.1 L403.1 151.0 L403.9 150.9 L404.6 151.0 L405.2 151.4 L405.8 151.8 L406.4 152.3 L407.0 152.8 L407.6 153.3 L408.3 153.8 L408.9 154.3 L409.5 154.8 L410.1 155.2 L410.8 155.5 L411.5 155.5 L412.1 155.4 L412.8 155.4 L413.6 155.3 L414.4 155.3 L415.2 155.2 L416.0 155.2 L416.8 155.2 L417.5 155.1 L418.3 155.2 L418.9 155.5 L419.5 156.0 L420.0 156.5 L420.5 157.1 L421.0 157.7 L421.5 158.3 L422.0 158.9 L422.5 159.5 L423.0 160.1 L423.5 160.7 L424.2 161.1 L424.9 161.3 L425.6 161.3 L426.4 161.2 L427.2 161.1 L428.0 161.0 L428.7 160.9 L429.5 160.8 L430.3 160.7 L431.0 160.7 L431.8 160.6 L432.5 160.7 L433.1 161.1 L433.7 161.6 L434.3 162.1 L434.8 162.6 L435.4 163.2 L435.9 163.8 L436.5 164.3 L437.1 164.8 L437.6 165.3 L438.2 165.8 L438.9 166.0 L439.6 166.0 L440.4 165.9 L441.2 165.8 L441.9 165.7 L442.7 165.6 L443.5 165.5 L444.3 165.4 L445.0 165.3 L445.8 165.3 L446.5 165.4 L447.1 165.8 L447.7 166.3 L448.3 166.8 L448.8 167.3 L449.4 167.9 L449.9 168.4 L450.5 169.0 L451.0 169.5 L451.6 170.0 L452.2 170.5 L452.9 170.7 L453.6 170.7 L454.4 170.6 L455.2 170.5 L455.9 170.4 L456.7 170.3 L457.5 170.2 L458.3 170.1 L459.0 170.0 L459.8 170.0 L460.5 170.1 L461.1 170.5 L461.7 170.9 L462.2 171.5 L462.8 172.0 L463.4 172.6 L463.9 173.1 L464.5 173.7 L465.0 174.2 L465.6 174.7 L466.2 175.1 L466.9 175.4 L467.7 175.4 L468.4 175.3 L469.2 175.1 L470.0 175.0 L470.8 174.9 L471.6 174.7 L472.3 174.6 L473.1 174.5 L473.9 174.4 L474.6 174.6 L475.2 175.0 L475.8 175.4 L476.4 176.0 L477.0 176.5 L477.6 177.0 L478.2 177.6 L478.8 178.1 L479.4 178.6 L480.0 179.0 L480.7 179.3 L481.4 179.4 L482.2 179.3 L482.9 179.2 L483.7 179.1 L484.5 178.9 L485.3 178.8 L486.1 178.7 L486.8 178.5 L487.6 178.5 L488.3 178.5 L489.0 178.8 L489.6 179.3 L490.2 179.8 L490.8 180.3 L491.4 180.8 L492.0 181.4 L492.5 181.9 L493.1 182.4 L493.7 182.9 L494.3 183.3 L495.0 183.5 L495.8 183.5 L496.5 183.4 L497.3 183.3 L498.1 183.2 L498.9 183.0 L499.6 182.9 L500.4 182.8 L501.2 182.7 L501.9 182.7 L502.6 182.8 L503.3 183.2 L503.8 183.7 L504.4 184.2 L505.0 184.8 L505.6 185.3 L506.2 185.8 L506.7 186.4 L507.3 186.9 L507.9 187.4 L508.6 187.7 L509.3 187.8 L510.0 187.7 L510.8 187.6 L511.6 187.5 L512.4 187.4 L513.1 187.3 L513.9 187.1 L514.7 187.0 L515.4 187.0 L516.2 187.0 L516.9 187.2 L517.5 187.7 L518.0 188.2 L518.6 188.7 L519.2 189.2 L519.8 189.8 L520.4 190.3 L520.9 190.8 L521.5 191.3 L522.1 191.8 L522.8 192.0 L523.5 192.0 L524.3 192.0 L525.1 191.9 L525.8 191.7 L526.6 191.6 L527.4 191.5 L528.2 191.4 L529.0 191.3 L529.7 191.2 L530.3 191.3 L531.0 191.6 L531.6 192.0 L532.2 192.5 L532.9 193.0 L533.5 193.5 L534.1 194.0 L534.7 194.5 L535.3 194.9 L536.0 195.4 L536.6 195.7 L537.4 195.7 L538.1 195.6 L538.9 195.4 L539.7 195.2 L540.4 195.1 L541.2 194.9 L542.0 194.7 L542.7 194.5 L543.5 194.4 L544.2 194.4 L544.9 194.6 L545.5 195.0 L546.2 195.5 L546.8 196.0 L547.4 196.5 L548.0 197.0 L548.6 197.5 L549.3 198.0 L549.9 198.4 L550.5 198.8 L551.3 198.8 L552.0 198.7 L552.8 198.6 L553.6 198.4 L554.3 198.2 L555.1 198.0 L555.9 197.8 L556.6 197.6 L557.4 197.5 L558.1 197.5 L558.8 197.7 L559.5 198.1 L560.1 198.6 L560.7 199.1 L561.3 199.6 L561.9 200.1 L562.5 200.6 L563.0 201.2 L563.6 201.6 L564.2 202.0 L564.9 202.3 L565.6 202.3 L566.4 202.2 L567.2 202.1 L567.9 201.9 L568.7 201.8 L569.5 201.7 L570.2 201.5 L571.0 201.4 L571.7 201.4 L572.4 201.5 L573.1 201.8 L573.7 202.2 L574.2 202.7 L574.8 203.3 L575.4 203.8 L576.0 204.3 L576.6 204.8 L577.1 205.4 L577.7 205.8 L578.3 206.2 L579.0 206.4 L579.8 206.4 L580.5 206.3 L581.3 206.2 L582.0 206.0 L582.8 205.9 L583.6 205.8 L584.3 205.6 L585.1 205.5 L585.9 205.5 L586.5 205.6 L587.2 206.0 L587.8 206.4 L588.3 207.0 L588.9 207.5 L589.5 208.0 L590.1 208.5 L590.6 209.1 L591.2 209.6 L591.8 210.0 L592.4 210.4 L593.1 210.5 L593.9 210.5 L594.6 210.4 L595.4 210.3 L596.2 210.1 L596.9 210.0 L597.7 209.9 L598.5 209.7 L599.2 209.7 L600.0 209.6 L600.7 209.8 L601.3 210.2 L601.9 210.7 L602.4 211.2 L603.0 211.7 L603.6 212.2 L604.2 212.7 L604.7 213.3 L605.3 213.8 L605.9 214.2 L606.6 214.6 L607.3 214.6 L608.0 214.6 L608.8 214.5 L609.5 214.4 L610.3 214.2 L611.1 214.1 L611.8 214.0 L612.6 213.9 L613.4 213.8 L614.1 213.8 L614.8 214.0 L615.4 214.4 L616.0 214.9 L616.5 215.4 L617.1 215.9 L617.7 216.4 L618.3 216.9 L618.8 217.5 L619.4 218.0 L620.0 218.4 L620.7 218.7 L621.4 218.8 L622.1 218.7 L622.9 218.6 L623.7 218.5 L624.4 218.3 L625.2 218.2 L626.0 218.1 L626.7 218.0 L627.5 217.9 L628.2 217.9 L628.9 218.1 L629.5 218.6 L630.0 219.1 L630.6 219.6 L631.2 220.1 L631.8 220.6 L632.4 221.2 L632.9 221.7 L633.5 222.2 L634.1 222.6 L634.8 222.9 L635.5 222.9 L636.3 222.8 L637.0 222.7 L637.8 222.6 L638.6 222.4 L639.3 222.3 L640.1 222.2 L640.9 222.1 L641.6 222.0 L642.3 222.0 L643.0 222.3 L643.6 222.8 L644.1 223.3 L644.7 223.8 L645.3 224.3 L645.9 224.8 L646.4 225.4 L647.0 225.9 L647.6 226.4 L648.2 226.8 L648.9 227.0 L649.6 227.0 L650.4 226.9 L651.1 226.8 L651.9 226.7 L652.7 226.5 L653.4 226.4 L654.2 226.3 L654.9 226.1 L655.7 226.0 L656.4 226.0 L657.0 226.3 L657.7 226.8 L658.3 227.2 L658.9 227.7 L659.5 228.2 L660.1 228.7 L660.7 229.2 L661.3 229.7 L662.0 230.1 L662.6 230.4 L663.3 230.5 L664.1 230.4 L664.8 230.2 L665.6 230.0 L666.4 229.8 L667.1 229.6 L667.9 229.5 L668.7 229.3 L669.4 229.2 L670.1 229.1 L670.8 229.3 L671.4 229.7 L672.1 230.2 L672.7 230.7 L673.3 231.2 L673.9 231.7 L674.5 232.2 L675.1 232.7 L675.7 233.1 L676.4 233.5 L677.1 233.6 L677.8 233.5 L678.6 233.4 L679.3 233.2 L680.1 233.0 L680.9 232.8 L681.6 232.7 L682.4 232.5 L683.2 232.3 L683.9 232.2 L684.6 232.4 L685.2 232.7 L685.9 233.2 L686.5 233.7 L687.1 234.2 L687.7 234.7 L688.3 235.1 L688.9 235.7 L689.5 236.2 L690.1 236.6 L690.7 236.9 L691.5 236.9 L692.2 236.8 L693.0 236.7 L693.8 236.6 L694.6 236.4 L695.4 236.3 L696.1 236.1 L696.9 236.0 L697.7 235.9 L698.4 236.0 L699.0 236.3 L699.6 236.8 L700.2 237.3 L700.8 237.8 L701.4 238.3 L702.0 238.9 L702.6 239.4 L703.2 239.9 L703.8 240.4 L704.4 240.7 L705.2 240.9 L705.9 240.8 L706.7 240.7 L707.5 240.6 L708.2 240.4 L709.0 240.3 L709.8 240.1 L710.6 240.0 L711.3 239.9 L712.1 239.9 L712.8 240.1 L713.4 240.5 L714.0 241.0 L714.6 241.5 L715.2 242.1 L715.8 242.6 L716.4 243.1 L716.9 243.6 L717.5 244.1 L718.2 244.6 L718.8 244.8 L719.6 244.8 L720.4 244.7 L721.1 244.6 L721.9 244.4 L722.7 244.3 L723.4 244.1 L724.2 244.0 L725.0 243.8 L725.7 243.7 L726.4 243.8 L727.1 244.1 L727.7 244.6 L728.3 245.1 L728.9 245.6 L729.5 246.1 L730.1 246.6 L730.7 247.1 L731.3 247.6 L731.9 248.1 L732.5 248.4 L733.2 248.5 L734.0 248.5 L734.7 248.3 L735.5 248.2 L736.3 248.0 L737.0 247.9 L737.8 247.7 L738.6 247.6 L739.3 247.5 L740.1 247.4 L740.7 247.6 L741.4 248.0 L742.0 248.5 L742.6 249.0 L743.1 249.5 L743.7 250.0 L744.3 250.5 L744.9 251.0 L745.5 251.5 L746.2 251.9 L746.8 252.2 L747.5 252.2 L748.3 252.1 L749.1 251.9 L749.8 251.8 L750.6 251.6 L751.4 251.5 L752.1 251.3 L752.9 251.2 L753.7 251.1 L754.4 251.2 L755.0 251.5 L755.6 251.9 L756.2 252.4 L756.8 252.9 L757.4 253.4 L758.0 253.9 L758.6 254.4 L759.2 254.9 L759.8 255.4 L760.5 255.8 L761.1 255.9 L761.9 255.8 L762.7 255.7 L763.4 255.5 L764.2 255.4 L765.0 255.2 L765.7 255.1 L766.5 254.9 L767.3 254.8 L768.0 254.8 L768.7 254.9 L769.5 255.3 L770.0 255.9 L770.6 256.4 L771.1 257.0 L771.6 257.6 L772.1 258.2 L772.7 258.8 L773.2 259.4 L773.7 259.9 L774.3 260.3 L775.0 260.5 L775.8 260.5 L776.6 260.5 L777.4 260.4 L778.1 260.4 L778.9 260.3 L779.7 260.2 L780.5 260.2 L781.3 260.1 L782.0 260.2 L782.7 260.4 L783.3 260.8 L783.9 261.3 L784.4 261.9 L784.9 262.5 L785.4 263.1 L786.0 263.7 L786.5 264.3 L787.0 264.9 L787.6 265.4 L788.2 265.9 L788.8 266.1 L789.6 266.2 L790.3 266.1 L791.1 266.1 L791.9 266.0 L792.7 265.9 L793.5 265.9 L794.3 265.8 L795.1 265.8 L795.8 265.8 L796.5 265.9 L797.2 266.3 L797.7 266.8 L798.2 267.4 L798.8 268.0 L799.3 268.6 L799.8 269.1 L800.3 269.7 L800.9 270.3 L801.4 270.9 L802.0 271.4 L802.6 271.7 L803.3 271.8 L804.5 270.8" fill="none" stroke="#2e3192" stroke-width="1.15"/>
<path d="M57.3 123.4 L58.0 123.8 L58.7 124.0 L59.4 123.9 L60.1 123.6 L60.9 123.3 L61.6 123.0 L62.4 122.7 L63.1 122.3 L63.9 122.0 L64.6 121.7 L65.4 121.5 L66.1 121.5 L66.7 121.7 L67.4 122.2 L68.0 122.7 L68.7 123.2 L69.3 123.7 L70.0 124.2 L70.6 124.7 L71.3 125.2 L71.9 125.6 L72.6 125.8 L73.3 125.7 L74.1 125.5 L74.8 125.2 L75.5 124.8 L76.3 124.5 L77.0 124.2 L77.8 123.9 L78.5 123.6 L79.3 123.3 L80.0 123.3 L80.7 123.5 L81.3 123.9 L82.0 124.4 L82.6 124.9 L83.3 125.4 L83.9 125.9 L84.5 126.4 L85.2 126.9 L85.8 127.3 L86.5 127.6 L87.2 127.5 L88.0 127.3 L88.7 127.0 L89.5 126.7 L90.2 126.4 L91.0 126.0 L91.7 125.7 L92.5 125.4 L93.2 125.1 L93.9 125.1 L94.6 125.3 L95.3 125.7 L95.9 126.2 L96.5 126.7 L97.2 127.2 L97.8 127.7 L98.5 128.2 L99.1 128.7 L99.8 129.1 L100.4 129.4 L101.2 129.4 L101.9 129.1 L102.6 128.8 L103.4 128.5 L104.1 128.2 L104.9 127.9 L105.6 127.5 L106.4 127.2 L107.1 127.0 L107.8 126.9 L108.5 127.0 L109.2 127.4 L109.8 127.9 L110.5 128.4 L111.1 128.9 L111.8 129.4 L112.4 129.9 L113.1 130.4 L113.7 130.9 L114.4 131.2 L115.1 131.2 L115.8 130.9 L116.6 130.6 L117.3 130.3 L118.1 130.0 L118.8 129.7 L119.5 129.3 L120.3 129.0 L121.0 128.7 L121.8 128.6 L122.4 128.7 L123.1 129.1 L123.8 129.6 L124.4 130.1 L125.1 130.6 L125.7 131.1 L126.3 131.6 L127.0 132.0 L127.6 132.5 L128.3 132.8 L129.0 132.9 L129.7 132.6 L130.5 132.4 L131.2 132.0 L132.0 131.7 L132.7 131.4 L133.5 131.0 L134.2 130.7 L135.0 130.4 L135.7 130.3 L136.4 130.4 L137.0 130.7 L137.7 131.2 L138.3 131.7 L139.0 132.2 L139.6 132.7 L140.3 133.2 L140.9 133.7 L141.6 134.1 L142.2 134.5 L142.9 134.5 L143.7 134.3 L144.4 134.1 L145.2 133.7 L145.9 133.4 L146.7 133.1 L147.4 132.7 L148.1 132.4 L148.9 132.1 L149.6 131.9 L150.3 132.0 L151.0 132.4 L151.6 132.8 L152.3 133.3 L152.9 133.8 L153.6 134.3 L154.2 134.8 L154.9 135.3 L155.5 135.8 L156.2 136.1 L156.9 136.2 L157.6 136.1 L158.3 135.8 L159.1 135.4 L159.8 135.1 L160.6 134.8 L161.3 134.4 L162.1 134.1 L162.8 133.8 L163.5 133.6 L164.2 133.7 L164.9 134.0 L165.6 134.4 L166.2 134.9 L166.9 135.4 L167.5 135.9 L168.1 136.4 L168.8 136.9 L169.4 137.4 L170.1 137.8 L169.6 137.9 L170.3 138.2 L171.1 138.4 L171.9 138.5 L172.7 138.6 L173.5 138.8 L174.4 138.9 L175.2 139.0 L176.0 139.1 L177.3 139.5 L178.0 139.9 L178.6 140.4 L179.2 140.8 L179.7 141.4 L180.0 142.1 L180.2 142.8 L180.3 143.6 L180.3 144.4 L180.4 145.3 L180.4 146.1 L180.5 146.9 L180.5 147.7 L180.7 148.6 L181.0 149.4 L181.2 150.2 L181.5 151.0 L181.8 151.7 L182.2 152.4 L182.7 152.8 L183.4 153.1 L184.2 153.4 L185.0 153.5 L185.8 153.7 L186.6 153.9 L187.5 154.0 L188.3 154.2 L189.1 154.4 L189.9 154.5 L190.7 154.7 L191.5 154.9 L192.2 155.2 L193.0 155.8 L193.3 156.4 L193.6 157.2 L193.8 158.0 L193.9 158.8 L194.1 159.6 L194.3 160.4 L194.5 161.2 L194.6 162.0 L194.8 162.8 L195.0 163.6 L195.2 164.4 L195.4 165.2 L195.7 165.9 L196.1 166.5 L196.6 167.0 L197.3 167.3 L198.0 167.6 L198.8 167.9 L199.4 167.9 L200.1 168.4 L200.8 169.0 L201.4 169.5 L202.1 170.0 L202.8 170.6 L203.5 171.1 L204.1 171.7 L204.8 172.2 L205.3 172.8 L203.9 172.8 L204.6 173.3 L205.2 173.9 L205.7 174.6 L206.3 175.3 L206.9 176.0 L207.4 176.6 L208.0 177.3 L208.6 178.0 L207.5 177.8 L207.7 178.5 L208.1 179.2 L208.6 179.7 L209.2 180.3 L209.9 180.8 L210.5 181.4 L211.1 181.9 L211.8 182.4 L212.4 182.9 L213.2 183.0 L214.0 183.0 L214.8 183.1 L215.6 183.2 L216.4 183.4 L217.0 183.8 L217.5 184.4 L217.8 185.0 L218.2 185.8 L218.5 186.5 L218.9 187.3 L219.2 188.0 L219.5 188.8 L219.9 189.6 L219.6 190.0 L219.6 190.8 L219.7 191.6 L219.9 192.3 L220.2 193.0 L220.7 193.5 L221.4 194.0 L222.0 194.4 L222.7 194.8 L223.4 195.3 L224.3 195.8 L225.2 195.9 L226.1 195.9 L227.0 196.0 L227.8 196.1 L228.7 196.2 L229.5 196.4 L230.2 196.8 L230.6 197.4 L231.0 198.1 L231.7 198.9 L231.9 199.8 L232.1 200.6 L232.3 201.4 L232.5 202.2 L232.7 203.0 L233.0 203.8 L233.2 204.6 L233.5 205.4 L233.8 206.1 L234.3 206.6 L235.0 207.0 L235.7 207.3 L236.5 207.5 L237.3 207.7 L238.1 208.0 L238.9 208.2 L239.7 208.4 L240.6 208.6 L241.5 208.9 L242.3 209.2 L243.0 209.6 L243.7 210.0 L244.3 210.4 L244.8 210.9 L245.1 211.6 L245.4 212.3 L245.5 213.1 L245.7 213.9 L245.8 214.7 L245.9 215.5 L246.1 216.3 L246.2 217.1 L246.5 217.9 L246.9 218.7 L247.3 219.4 L247.7 220.1 L248.2 220.8 L248.7 221.2 L249.5 221.4 L250.3 221.5 L251.1 221.5 L251.9 221.5 L252.8 221.5 L253.6 221.5 L254.5 221.6 L255.3 221.6 L256.1 221.6 L256.9 221.7 L257.6 221.9 L258.2 222.4 L258.1 223.1 L258.7 223.6 L259.3 224.2 L259.9 224.7 L260.5 225.3 L261.1 225.8 L261.7 226.4 L262.3 226.9 L262.9 227.3 L263.6 227.5 L264.3 227.4 L265.1 227.2 L265.9 227.0 L266.6 226.7 L267.4 226.5 L268.2 226.2 L269.0 226.0 L269.8 225.8 L270.5 225.7 L271.2 225.7 L271.8 226.1 L272.4 226.6 L273.0 227.2 L273.6 227.7 L274.2 228.3 L274.8 228.9 L275.4 229.4 L275.7 230.0 L276.3 230.5 L276.8 231.0 L277.5 231.1 L278.3 231.1 L279.1 231.1 L279.9 231.0 L280.7 230.9 L281.6 230.8 L282.4 230.7 L283.2 230.6 L284.0 230.5 L284.8 230.5 L285.5 230.7 L286.0 231.2 L286.7 231.8 L287.1 232.4 L287.5 233.2 L288.0 233.9 L288.4 234.6 L288.8 235.3 L289.2 236.0 L289.7 236.7 L290.1 237.3 L290.7 237.8 L291.4 238.0 L292.2 238.1 L293.0 238.1 L293.8 238.1 L294.6 238.0 L295.5 238.0 L296.2 238.0 L297.0 237.8 L297.8 237.7 L298.6 237.6 L299.3 237.7 L299.9 238.1 L300.5 238.7 L301.0 239.3 L301.6 239.9 L302.1 240.5 L302.7 241.1 L303.2 241.7 L303.8 242.3 L304.4 242.9 L305.0 243.3 L305.7 243.4 L306.5 243.3 L307.3 243.2 L308.1 243.0 L308.9 242.8 L309.7 242.7 L310.5 242.5 L311.5 242.3 L312.3 242.3 L313.0 242.3 L313.7 242.6 L314.2 243.1 L314.7 243.7 L315.2 244.4 L315.7 245.0 L316.2 245.7 L316.7 246.3 L317.1 247.0 L317.6 247.7 L318.1 248.3 L318.7 248.7 L319.4 249.0 L320.1 249.0 L320.9 248.9 L321.7 248.8 L322.6 248.7 L323.4 248.6 L324.2 248.5 L325.0 248.4 L325.8 248.3 L326.6 248.3 L327.3 248.4 L327.9 248.8 L328.4 249.4 L328.9 250.0 L329.4 250.7 L329.9 251.4 L330.4 252.0 L330.9 252.7 L331.3 253.3 L331.8 254.0 L332.4 254.5 L333.0 254.9 L333.7 255.1 L334.7 255.0 L335.5 254.8 L336.3 254.6 L337.0 254.4 L337.8 254.1 L338.6 253.9 L339.4 253.7 L340.2 253.5 L340.9 253.5 L341.5 253.7 L342.2 254.2 L342.8 254.7 L343.3 255.3 L343.9 255.9 L344.5 256.4 L345.1 257.0 L345.7 257.5 L346.3 258.1 L346.9 258.5 L347.7 258.7 L348.4 258.5 L349.2 258.3 L349.9 258.0 L350.7 257.8 L351.5 257.5 L352.3 257.2 L353.0 257.0 L353.8 256.7 L354.5 256.6 L355.2 256.7 L355.9 257.1 L356.5 257.6 L357.1 258.1 L357.7 258.6 L358.3 259.2 L358.9 259.7 L359.5 260.3 L360.2 260.8 L360.8 261.2 L361.5 261.4 L362.2 261.4 L363.0 261.2 L363.7 260.9 L364.5 260.6 L365.3 260.4 L366.0 260.1 L366.8 259.8 L367.6 259.6 L368.3 259.4 L369.0 259.4 L369.7 259.7 L370.3 260.2 L370.9 260.7 L371.5 261.3 L372.1 261.8 L372.8 262.4 L373.4 262.9 L374.0 263.4 L374.6 263.9 L375.3 264.2 L376.0 264.2 L376.8 264.0 L377.5 263.7 L378.3 263.5 L379.1 263.2 L379.9 262.9 L380.6 262.6 L381.4 262.4 L382.2 262.2 L382.9 262.1 L383.6 262.4 L384.2 262.8 L384.8 263.3 L385.4 263.9 L386.1 264.4 L386.7 265.0 L387.3 265.5 L387.9 266.0 L388.5 266.5 L389.2 266.8 L389.9 266.9 L390.7 266.7 L391.4 266.4 L392.2 266.2 L393.0 265.9 L393.8 265.6 L394.5 265.3 L395.3 265.1 L396.1 264.8 L396.8 264.8 L397.5 265.0 L398.1 265.4 L398.7 265.9 L399.4 266.5 L400.0 267.0 L400.6 267.6 L401.2 268.1 L401.8 268.6 L402.5 269.1 L403.1 269.5 L403.8 269.5 L404.6 269.4 L405.4 269.1 L406.1 268.8 L406.9 268.6 L407.7 268.3 L408.5 268.0 L409.2 267.7 L410.0 267.5 L410.7 267.4 L411.4 267.6 L412.1 268.0 L412.7 268.5 L413.3 269.1 L413.9 269.6 L414.5 270.2 L415.1 270.8 L415.7 271.3 L416.3 271.8 L416.9 272.2 L417.6 272.3 L418.4 272.2 L419.1 272.0 L419.9 271.8 L420.7 271.5 L421.5 271.3 L422.2 271.0 L423.0 270.8 L423.8 270.6 L424.5 270.4 L425.2 270.5 L425.8 270.9 L426.5 271.4 L427.1 271.9 L427.7 272.5 L428.3 273.0 L428.9 273.6 L429.5 274.1 L430.1 274.6 L430.7 275.1 L431.3 275.4 L432.1 275.4 L432.8 275.2 L433.6 274.9 L434.4 274.7 L435.1 274.4 L435.9 274.2 L436.7 273.9 L437.4 273.7 L438.2 273.5 L438.9 273.5 L439.6 273.8 L440.2 274.2 L440.8 274.7 L441.4 275.3 L442.0 275.8 L442.6 276.4 L443.2 277.0 L443.8 277.5 L444.4 278.0 L445.1 278.4 L445.8 278.4 L446.5 278.3 L447.3 278.1 L448.0 277.8 L448.8 277.6 L449.6 277.3 L450.4 277.1 L451.1 276.8 L451.9 276.6 L452.6 276.5 L453.3 276.7 L454.0 277.1 L454.6 277.6 L455.2 278.1 L455.8 278.7 L456.4 279.2 L457.0 279.8 L457.6 280.3 L458.2 280.8 L458.8 281.3 L459.5 281.5 L460.2 281.4 L461.0 281.2 L461.7 281.0 L462.5 280.8 L463.3 280.5 L464.0 280.2 L464.8 280.0 L465.6 279.8 L466.3 279.6 L467.1 279.6 L467.7 279.9 L468.3 280.4 L468.9 280.9 L469.5 281.5 L470.1 282.1 L470.7 282.6 L471.3 283.2 L471.9 283.7 L472.5 284.2 L473.2 284.5 L473.9 284.5 L474.6 284.4 L475.4 284.2 L476.2 283.9 L476.9 283.7 L477.7 283.4 L478.5 283.1 L479.3 282.9 L480.0 282.7 L480.8 282.6 L481.4 282.8 L482.1 283.3 L482.7 283.8 L483.3 284.3 L483.9 284.9 L484.5 285.4 L485.1 286.0 L485.7 286.5 L486.3 287.0 L486.9 287.4 L487.6 287.6 L488.3 287.5 L489.1 287.3 L489.9 287.1 L490.6 286.8 L491.4 286.5 L492.2 286.2 L492.9 286.0 L493.7 285.7 L494.4 285.6 L495.1 285.6 L495.8 286.0 L496.4 286.4 L497.0 287.0 L497.6 287.5 L498.3 288.0 L498.9 288.6 L499.5 289.1 L500.1 289.6 L500.7 290.1 L501.4 290.3 L502.1 290.2 L502.9 290.0 L503.6 289.8 L504.4 289.5 L505.2 289.2 L505.9 288.9 L506.7 288.7 L507.5 288.4 L508.2 288.2 L508.9 288.2 L509.6 288.5 L510.2 288.9 L510.8 289.4 L511.5 290.0 L512.1 290.5 L512.7 291.0 L513.3 291.6 L513.9 292.1 L514.5 292.6 L515.2 292.9 L515.9 292.9 L516.7 292.7 L517.4 292.5 L518.2 292.2 L518.9 291.9 L519.7 291.6 L520.5 291.4 L521.2 291.1 L522.0 290.9 L522.7 290.8 L523.4 291.0 L524.0 291.4 L524.7 291.9 L525.3 292.4 L525.9 293.0 L526.5 293.5 L527.1 294.0 L527.7 294.6 L528.4 295.1 L529.0 295.4 L529.8 295.6 L530.5 295.4 L531.3 295.1 L532.0 294.8 L532.8 294.5 L533.5 294.2 L534.3 293.8 L535.1 293.5 L535.8 293.2 L536.5 293.1 L537.2 293.2 L537.9 293.6 L538.6 294.0 L539.2 294.5 L539.8 295.0 L540.5 295.6 L541.1 296.1 L541.8 296.6 L542.4 297.0 L543.1 297.4 L543.8 297.5 L544.5 297.3 L545.3 297.0 L546.0 296.7 L546.8 296.4 L547.6 296.1 L548.3 295.7 L549.1 295.4 L549.8 295.1 L550.6 295.0 L551.3 295.1 L551.9 295.5 L552.6 296.0 L553.2 296.5 L553.9 297.0 L554.5 297.5 L555.1 298.0 L555.8 298.5 L556.4 299.0 L557.1 299.3 L557.8 299.4 L558.6 299.2 L559.3 298.9 L560.1 298.6 L560.8 298.3 L561.6 298.0 L562.3 297.6 L563.1 297.3 L563.8 297.1 L564.6 296.9 L565.3 297.0 L565.9 297.4 L566.6 297.9 L567.2 298.4 L567.9 298.9 L568.5 299.4 L569.2 299.9 L569.8 300.4 L570.5 300.9 L571.1 301.2 L571.8 301.3 L572.6 301.1 L573.3 300.8 L574.1 300.5 L574.8 300.2 L575.6 299.9 L576.4 299.5 L577.1 299.2 L577.9 299.0 L578.6 298.8 L579.3 298.9 L580.0 299.3 L580.6 299.8 L581.3 300.3 L581.9 300.8 L582.5 301.3 L583.2 301.9 L583.8 302.4 L584.5 302.8 L585.2 303.2 L585.9 303.2 L586.6 303.0 L587.4 302.7 L588.1 302.4 L588.9 302.1 L589.6 301.8 L590.4 301.4 L591.1 301.1 L591.9 300.9 L592.6 300.7 L593.3 300.9 L594.0 301.3 L594.7 301.7 L595.3 302.3 L595.9 302.8 L596.5 303.4 L597.1 304.0 L597.7 304.5 L598.3 305.0 L599.0 305.4 L599.7 305.5 L600.4 305.4 L601.2 305.2 L602.0 304.9 L602.7 304.7 L603.5 304.4 L604.3 304.2 L605.1 303.9 L605.8 303.7 L606.6 303.6 L607.3 303.7 L607.9 304.1 L608.5 304.6 L609.1 305.1 L609.7 305.7 L610.3 306.2 L610.9 306.8 L611.5 307.3 L612.1 307.8 L612.8 308.3 L613.4 308.5 L614.2 308.4 L614.9 308.2 L615.7 308.0 L616.5 307.7 L617.3 307.5 L618.0 307.2 L618.8 307.0 L619.6 306.7 L620.3 306.6 L621.1 306.6 L621.7 306.9 L622.3 307.4 L622.9 307.9 L623.5 308.5 L624.1 309.0 L624.7 309.6 L625.3 310.1 L626.0 310.7 L626.6 311.1 L627.2 311.4 L627.9 311.5 L628.7 311.3 L629.5 311.1 L630.2 310.8 L631.0 310.5 L631.8 310.3 L632.6 310.0 L633.3 309.8 L634.1 309.6 L634.8 309.5 L635.5 309.8 L636.1 310.2 L636.7 310.7 L637.4 311.3 L638.0 311.8 L638.6 312.4 L639.2 312.9 L639.9 313.5 L640.5 314.0 L641.2 314.3 L641.9 314.3 L642.6 314.1 L643.3 313.9 L644.1 313.5 L644.8 313.2 L645.6 312.9 L646.3 312.6 L647.1 312.3 L647.8 312.0 L648.6 311.8 L649.3 312.0 L649.9 312.3 L650.6 312.8 L651.2 313.3 L651.8 313.8 L652.5 314.3 L653.1 314.8 L653.7 315.3 L654.4 315.8 L655.1 316.2 L655.7 316.2 L656.5 316.1 L657.2 315.8 L658.0 315.5 L658.7 315.2 L659.5 314.9 L660.2 314.5 L661.0 314.2 L661.7 313.9 L662.4 313.8 L663.1 313.8 L663.8 314.2 L664.5 314.6 L665.1 315.1 L665.7 315.6 L666.4 316.1 L667.0 316.7 L667.6 317.2 L668.3 317.6 L668.9 318.0 L669.6 318.2 L670.4 318.0 L671.1 317.8 L671.8 317.5 L672.6 317.1 L673.3 316.8 L674.1 316.5 L674.9 316.2 L675.6 315.9 L676.3 315.7 L677.0 315.7 L677.7 316.0 L678.3 316.5 L679.0 316.9 L679.6 317.5 L680.3 318.0 L680.9 318.5 L681.5 319.0 L682.2 319.5 L682.8 319.9 L683.5 320.1 L684.2 320.0 L685.0 319.7 L685.7 319.4 L686.5 319.1 L687.2 318.8 L688.0 318.4 L688.7 318.1 L689.5 317.8 L690.2 317.6 L690.9 317.6 L691.6 317.9 L692.2 318.3 L692.9 318.8 L693.5 319.3 L694.2 319.8 L694.8 320.3 L695.4 320.8 L696.1 321.3 L696.7 321.7 L697.4 322.0 L698.1 321.9 L698.9 321.7 L699.6 321.4 L700.4 321.0 L701.1 320.7 L701.9 320.4 L702.6 320.1 L703.4 319.8 L704.1 319.5 L704.8 319.5 L705.5 319.7 L706.1 320.1 L706.8 320.6 L707.4 321.1 L708.1 321.6 L708.7 322.1 L709.3 322.6 L710.0 323.1 L710.6 323.6 L711.3 323.8 L712.0 323.8 L712.7 323.6 L713.5 323.3 L714.2 323.0 L715.0 322.7 L715.7 322.3 L716.5 322.0 L717.2 321.7 L718.0 321.4 L718.7 321.3 L719.4 321.4 L720.0 321.8 L720.7 322.3 L721.4 322.8 L722.0 323.3 L722.7 323.8 L723.3 324.3 L724.0 324.7 L724.6 325.2 L725.3 325.5 L726.0 325.4 L726.8 325.2 L727.5 324.9 L728.2 324.5 L729.0 324.2 L729.7 323.9 L730.5 323.5 L731.2 323.2 L732.0 322.9 L732.7 322.8 L733.4 323.0 L734.0 323.3 L734.7 323.8 L735.4 324.3 L736.0 324.8 L736.7 325.3 L737.3 325.8 L738.0 326.3 L738.6 326.7 L739.3 327.0 L740.0 326.9 L740.8 326.7 L741.5 326.4 L742.2 326.1 L743.0 325.7 L743.7 325.4 L744.5 325.0 L745.2 324.7 L746.0 324.4 L746.7 324.3 L747.4 324.5 L748.0 324.9 L748.7 325.3 L749.4 325.8 L750.0 326.3 L750.7 326.8 L751.3 327.3 L752.0 327.8 L752.6 328.2 L753.3 328.5 L754.0 328.5 L754.8 328.2 L755.4 327.9 L756.2 327.6 L757.0 327.3 L757.8 327.0 L758.5 326.7 L759.3 326.5 L760.1 326.2 L760.8 326.1 L761.5 326.4 L762.1 326.8 L762.7 327.3 L763.4 327.8 L764.0 328.4 L764.6 328.9 L765.3 329.4 L765.9 330.0 L766.5 330.4 L767.2 330.8 L767.9 330.8 L768.6 330.6 L769.4 330.3 L770.2 330.1 L771.0 329.8 L771.7 329.5 L772.5 329.2 L773.3 328.9 L774.0 328.7 L774.8 328.6 L775.4 328.8 L776.1 329.2 L776.7 329.7 L777.3 330.2 L778.0 330.8 L778.6 331.3 L779.2 331.9 L779.9 332.4 L780.5 332.8 L781.2 333.2 L781.9 333.2 L782.6 333.1 L783.4 332.8 L784.1 332.5 L784.9 332.2 L785.7 331.9 L786.5 331.6 L787.2 331.4 L788.0 331.1 L788.7 331.0 L789.4 331.2 L790.1 331.6 L790.7 332.1 L791.3 332.7 L791.9 333.2 L792.6 333.7 L793.2 334.3 L793.8 334.8 L794.5 335.3 L795.1 335.6 L795.8 335.7 L796.6 335.5 L797.3 335.2 L798.1 335.0 L798.9 334.7 L799.7 334.4 L800.4 334.1 L801.2 333.8 L802.0 333.6 L802.7 333.4 L803.4 333.6 L804.0 334.0 L804.5 335.5" fill="none" stroke="#2e3192" stroke-width="1.15"/>
<path d="M51 32.5H58M50 122.3H58" stroke="#222" stroke-width="1.2"/>
<rect x="112.3" y="31.0" width="11.5" height="9.0" fill="url(#nd)"/>
<rect x="112.3" y="40.0" width="10.0" height="3.0" fill="url(#nd)"/>
<rect x="117.8" y="42.0" width="4.5" height="1" fill="#4a4a4c" opacity="0.6"/>
<rect x="112.3" y="43.0" width="14.0" height="44.0" fill="url(#nd)"/>
<rect x="112.3" y="87.0" width="7.0" height="8.0" fill="url(#nd)"/>
<rect x="112.3" y="95.0" width="7.0" height="6.0" fill="url(#nd)"/>
<rect x="112.3" y="101.0" width="14.0" height="30.0" fill="url(#nd)"/>
<rect x="112.3" y="131.0" width="7.0" height="5.0" fill="#8998a6"/>
<rect x="112.3" y="136.0" width="12.0" height="8.0" fill="url(#nd)"/>
<rect x="112.3" y="144.0" width="7.0" height="5.0" fill="#8998a6"/>
<rect x="112.3" y="149.0" width="12.0" height="3.0" fill="url(#nd)"/>
<rect x="117.8" y="151.0" width="6.5" height="1" fill="#4a4a4c" opacity="0.6"/>
<rect x="112.3" y="152.0" width="7.0" height="6.0" fill="#8998a6"/>
<rect x="112.3" y="158.0" width="7.0" height="12.0" fill="url(#nd)"/>
<rect x="112.3" y="170.0" width="7.0" height="6.5" fill="#8998a6"/>
<rect x="112.3" y="176.5" width="7.0" height="7.0" fill="url(#no)"/>
<rect x="112.3" y="183.5" width="12.0" height="12.1" fill="url(#nd)"/>
<rect x="112.3" y="195.6" width="7.0" height="4.4" fill="url(#no)"/>
<rect x="112.3" y="200.0" width="12.0" height="3.0" fill="url(#nd)"/>
<rect x="117.8" y="202.0" width="6.5" height="1" fill="#4a4a4c" opacity="0.6"/>
<rect x="112.3" y="203.0" width="7.0" height="5.0" fill="url(#no)"/>
<rect x="112.3" y="208.0" width="12.0" height="2.5" fill="url(#nd)"/>
<rect x="117.8" y="209.5" width="6.5" height="1" fill="#4a4a4c" opacity="0.6"/>
<rect x="112.3" y="210.5" width="7.0" height="2.0" fill="url(#no)"/>
<rect x="112.3" y="212.5" width="12.0" height="2.3" fill="url(#nd)"/>
<rect x="117.8" y="213.8" width="6.5" height="1" fill="#4a4a4c" opacity="0.6"/>
<line x1="112.3" y1="29" x2="112.3" y2="215" stroke="#555" stroke-width="1"/>
<rect x="296.8" y="83.0" width="11.0" height="3.0" fill="url(#nd)"/>
<rect x="302.3" y="85.0" width="5.5" height="1" fill="#4a4a4c" opacity="0.6"/>
<rect x="296.8" y="86.0" width="5.0" height="6.0" fill="#8998a6"/>
<rect x="296.8" y="92.0" width="11.0" height="3.0" fill="url(#nd)"/>
<rect x="302.3" y="94.0" width="5.5" height="1" fill="#4a4a4c" opacity="0.6"/>
<rect x="296.8" y="95.0" width="5.0" height="6.0" fill="#8998a6"/>
<rect x="296.8" y="101.0" width="11.0" height="7.0" fill="url(#nd)"/>
<rect x="302.3" y="107.0" width="5.5" height="1" fill="#4a4a4c" opacity="0.6"/>
<rect x="296.8" y="108.0" width="5.0" height="7.0" fill="#8998a6"/>
<rect x="296.8" y="115.0" width="11.0" height="3.0" fill="url(#nd)"/>
<rect x="302.3" y="117.0" width="5.5" height="1" fill="#4a4a4c" opacity="0.6"/>
<rect x="296.8" y="118.0" width="5.0" height="12.0" fill="#8998a6"/>
<rect x="296.8" y="130.0" width="8.0" height="5.0" fill="url(#nl)"/>
<rect x="296.8" y="135.0" width="5.0" height="7.5" fill="#8998a6"/>
<rect x="296.8" y="142.5" width="11.0" height="4.0" fill="url(#nd)"/>
<rect x="302.3" y="145.5" width="5.5" height="1" fill="#4a4a4c" opacity="0.6"/>
<rect x="296.8" y="146.5" width="5.0" height="4.1" fill="url(#nd)"/>
<rect x="296.8" y="150.6" width="13.0" height="8.1" fill="url(#nd)"/>
<rect x="296.8" y="158.7" width="14.0" height="22.3" fill="url(#nd)"/>
<rect x="296.8" y="181.0" width="5.0" height="7.0" fill="#8998a6"/>
<rect x="296.8" y="188.0" width="14.0" height="9.0" fill="url(#nd)"/>
<rect x="296.8" y="197.0" width="10.5" height="23.0" fill="url(#nl)"/>
<rect x="296.8" y="220.0" width="11.0" height="5.5" fill="url(#nd)"/>
<rect x="302.3" y="224.5" width="5.5" height="1" fill="#4a4a4c" opacity="0.6"/>
<rect x="296.8" y="225.5" width="8.0" height="12.8" fill="url(#nl)"/>
<line x1="296.8" y1="81" x2="296.8" y2="276.7" stroke="#555" stroke-width="1"/>
<rect x="412.4" y="118.0" width="11.0" height="3.0" fill="url(#nd)"/>
<rect x="417.9" y="120.0" width="5.5" height="1" fill="#4a4a4c" opacity="0.6"/>
<rect x="412.4" y="122.0" width="5.6" height="8.0" fill="url(#no)"/>
<rect x="412.4" y="130.0" width="5.6" height="2.0" fill="#8998a6"/>
<rect x="412.4" y="132.0" width="12.0" height="4.0" fill="url(#nd)"/>
<rect x="417.9" y="135.0" width="6.5" height="1" fill="#4a4a4c" opacity="0.6"/>
<rect x="412.4" y="136.0" width="5.6" height="2.0" fill="#8998a6"/>
<rect x="412.4" y="138.0" width="12.0" height="5.0" fill="url(#nd)"/>
<rect x="417.9" y="142.0" width="6.5" height="1" fill="#4a4a4c" opacity="0.6"/>
<rect x="412.4" y="143.0" width="5.6" height="4.0" fill="#8998a6"/>
<rect x="412.4" y="145.0" width="8.0" height="2.0" fill="url(#nl)"/>
<rect x="412.4" y="147.0" width="5.6" height="6.0" fill="url(#no)"/>
<rect x="412.4" y="154.0" width="12.0" height="4.4" fill="url(#nd)"/>
<rect x="417.9" y="157.4" width="6.5" height="1" fill="#4a4a4c" opacity="0.6"/>
<rect x="412.4" y="158.4" width="6.0" height="10.1" fill="#8998a6"/>
<rect x="412.4" y="168.5" width="12.0" height="22.1" fill="url(#nd)"/>
<rect x="412.4" y="190.6" width="14.0" height="6.1" fill="url(#nd)"/>
<rect x="417.9" y="195.7" width="8.5" height="1" fill="#4a4a4c" opacity="0.6"/>
<rect x="412.4" y="196.7" width="11.5" height="16.3" fill="url(#nd)"/>
<rect x="412.4" y="213.0" width="9.5" height="3.0" fill="url(#nl)"/>
<rect x="412.4" y="216.0" width="14.0" height="3.5" fill="url(#nd)"/>
<rect x="417.9" y="218.5" width="8.5" height="1" fill="#4a4a4c" opacity="0.6"/>
<rect x="412.4" y="219.5" width="6.2" height="9.5" fill="#8998a6"/>
<rect x="412.4" y="229.0" width="14.0" height="19.0" fill="url(#nd)"/>
<rect x="412.4" y="248.0" width="10.0" height="2.0" fill="url(#nl)"/>
<rect x="412.4" y="250.0" width="14.0" height="26.6" fill="url(#nd)"/>
<rect x="412.4" y="276.6" width="10.0" height="2.0" fill="url(#nl)"/>
<rect x="412.4" y="278.6" width="12.0" height="4.0" fill="url(#nd)"/>
<rect x="417.9" y="281.6" width="6.5" height="1" fill="#4a4a4c" opacity="0.6"/>
<rect x="412.4" y="282.6" width="6.2" height="19.4" fill="url(#no)"/>
<line x1="412.4" y1="115" x2="412.4" y2="314.5" stroke="#555" stroke-width="1"/>
<rect x="720.6" y="244.0" width="5.4" height="16.0" fill="url(#nd)"/>
<rect x="720.6" y="260.0" width="13.5" height="5.0" fill="url(#nd)"/>
<rect x="726.1" y="264.0" width="8.0" height="1" fill="#4a4a4c" opacity="0.6"/>
<rect x="720.6" y="265.0" width="9.0" height="5.0" fill="url(#nl)"/>
<rect x="720.6" y="270.0" width="13.5" height="10.4" fill="url(#nd)"/>
<rect x="720.6" y="280.4" width="9.0" height="7.1" fill="url(#nl)"/>
<rect x="720.6" y="287.5" width="13.5" height="4.0" fill="url(#nd)"/>
<rect x="726.1" y="290.5" width="8.0" height="1" fill="#4a4a4c" opacity="0.6"/>
<rect x="720.6" y="291.5" width="10.0" height="5.1" fill="url(#nl)"/>
<rect x="720.6" y="296.6" width="13.5" height="7.0" fill="url(#nd)"/>
<rect x="726.1" y="302.6" width="8.0" height="1" fill="#4a4a4c" opacity="0.6"/>
<rect x="720.6" y="303.6" width="5.4" height="8.1" fill="#8998a6"/>
<rect x="720.6" y="311.7" width="11.0" height="3.0" fill="url(#nd)"/>
<rect x="726.1" y="313.7" width="5.5" height="1" fill="#4a4a4c" opacity="0.6"/>
<rect x="720.6" y="314.7" width="8.0" height="3.0" fill="url(#nl)"/>
<rect x="720.6" y="317.7" width="12.0" height="3.1" fill="url(#nd)"/>
<rect x="726.1" y="319.8" width="6.5" height="1" fill="#4a4a4c" opacity="0.6"/>
<rect x="720.6" y="322.0" width="9.0" height="2.0" fill="url(#nd)"/>
<rect x="720.6" y="325.0" width="11.0" height="2.0" fill="url(#nd)"/>
<rect x="726.1" y="326.0" width="5.5" height="1" fill="#4a4a4c" opacity="0.6"/>
<rect x="720.6" y="328.0" width="6.5" height="32.7" fill="url(#no)"/>
<line x1="720.6" y1="230" x2="720.6" y2="370.5" stroke="#555" stroke-width="1"/>
<line x1="221" y1="68.2" x2="176.5" y2="284" stroke="#ed1c24" stroke-width="1.2"/>
<line x1="560.6" y1="198" x2="524.8" y2="387.5" stroke="#ed1c24" stroke-width="1.2"/>
<line x1="769.5" y1="248.2" x2="738.6" y2="417" stroke="#ed1c24" stroke-width="1.2"/>
<line x1="165.6" y1="194.9" x2="176.0" y2="198.0" stroke="#ed1c24" stroke-width="1.4"/>
<polygon fill="#ed1c24" points="156.0,192.0 166.5,200.4 165.6,194.9 169.4,190.8" />
<line x1="184.2" y1="142.4" x2="193.5" y2="151.5" stroke="#ed1c24" stroke-width="1.4"/>
<polygon fill="#ed1c24" points="177.0,135.4 182.5,147.7 184.2,142.4 189.4,140.6" />
<line x1="203.6" y1="196.9" x2="202.0" y2="208.0" stroke="#ed1c24" stroke-width="1.4"/>
<polygon fill="#ed1c24" points="205.0,187.0 198.3,198.7 203.6,196.9 208.2,200.1" />
<line x1="194.6" y1="247.2" x2="192.4" y2="259.6" stroke="#ed1c24" stroke-width="1.4"/>
<polygon fill="#ed1c24" points="196.4,237.4 189.3,248.8 194.6,247.2 199.1,250.6" />
<line x1="327.8" y1="143.3" x2="340.2" y2="147.7" stroke="#ed1c24" stroke-width="1.4"/>
<polygon fill="#ed1c24" points="318.4,139.9 328.5,148.8 327.8,143.3 331.9,139.4" />
<line x1="391.5" y1="168.4" x2="404.0" y2="172.6" stroke="#ed1c24" stroke-width="1.4"/>
<polygon fill="#ed1c24" points="382.0,165.3 392.3,174.0 391.5,168.4 395.4,164.5" />
<line x1="389.9" y1="192.8" x2="401.5" y2="196.8" stroke="#ed1c24" stroke-width="1.4"/>
<polygon fill="#ed1c24" points="380.5,189.5 390.7,198.3 389.9,192.8 393.9,188.9" />
<line x1="477.5" y1="192.5" x2="490.0" y2="196.8" stroke="#ed1c24" stroke-width="1.4"/>
<polygon fill="#ed1c24" points="468.0,189.2 478.2,198.0 477.5,192.5 481.4,188.6" />
<line x1="493.8" y1="219.3" x2="505.3" y2="223.4" stroke="#ed1c24" stroke-width="1.4"/>
<polygon fill="#ed1c24" points="484.4,216.0 494.5,224.9 493.8,219.3 497.9,215.5" />
<line x1="553.5" y1="279.6" x2="551.8" y2="291.5" stroke="#ed1c24" stroke-width="1.4"/>
<polygon fill="#ed1c24" points="555.0,269.7 548.2,281.3 553.5,279.6 558.1,282.8" />
<line x1="540.3" y1="341.9" x2="538.6" y2="353.0" stroke="#ed1c24" stroke-width="1.4"/>
<polygon fill="#ed1c24" points="541.8,332.0 535.0,343.6 540.3,341.9 544.9,345.1" />
<line x1="614.7" y1="263.3" x2="626.8" y2="266.5" stroke="#ed1c24" stroke-width="1.4"/>
<polygon fill="#ed1c24" points="605.0,260.8 615.8,268.8 614.7,263.3 618.4,259.1" />
<line x1="682.0" y1="266.1" x2="693.2" y2="268.9" stroke="#ed1c24" stroke-width="1.4"/>
<polygon fill="#ed1c24" points="672.3,263.7 683.2,271.6 682.0,266.1 685.6,261.9" />
<line x1="748.1" y1="283.7" x2="759.4" y2="286.3" stroke="#ed1c24" stroke-width="1.4"/>
<polygon fill="#ed1c24" points="738.4,281.5 749.5,289.2 748.1,283.7 751.7,279.4" />
<line x1="697.4" y1="290.9" x2="709.4" y2="293.5" stroke="#ed1c24" stroke-width="1.4"/>
<polygon fill="#ed1c24" points="687.6,288.7 698.7,296.3 697.4,290.9 700.9,286.5" />
<line x1="765.5" y1="311.5" x2="763.2" y2="324.4" stroke="#ed1c24" stroke-width="1.4"/>
<polygon fill="#ed1c24" points="767.3,301.7 760.2,313.1 765.5,311.5 770.0,314.9" />
<line x1="754.8" y1="380.3" x2="751.8" y2="390.5" stroke="#ed1c24" stroke-width="1.4"/>
<polygon fill="#ed1c24" points="757.6,370.7 749.3,381.3 754.8,380.3 758.9,384.1" />
<line x1="495.4" y1="279.9" x2="504.0" y2="281.4" stroke="#ed1c24" stroke-width="1"/>
<polygon fill="#ed1c24" points="492.0,279.3 497.0,282.6 495.4,279.9 497.8,277.9" />
<rect x="7.5" y="6.5" width="797" height="413" fill="none" stroke="#3a3a3a" stroke-width="1.2"/>
<text class="cjk" x="18.5" y="25.5" text-anchor="start">百口泉组</text>
<text x="30" y="37.4" font-size="13.2" text-anchor="start" >T<tspan font-size="8" dy="2.5">1</tspan><tspan dy="-2.5">b</tspan></text>
<text class="cjk" x="14.5" y="78.2" text-anchor="start">上乌尔</text>
<text class="cjk" x="20" y="90.7" text-anchor="start">禾组</text>
<text x="22.6" y="105.5" font-size="13.2" text-anchor="start" >P<tspan font-size="8" dy="2.5">3</tspan><tspan dy="-2.5">w</tspan></text>
<text class="cjk" x="14.5" y="162.2" text-anchor="start">下乌尔</text>
<text class="cjk" x="20" y="175.7" text-anchor="start">禾组</text>
<text x="22.6" y="188.7" font-size="13.2" text-anchor="start" >P<tspan font-size="8" dy="2.5">2</tspan><tspan dy="-2.5">w</tspan></text>
<text class="cjk" x="98" y="25.5" text-anchor="start">玛湖</text>
<text x="128.5" y="25.5" font-size="13.2" text-anchor="start" >11</text>
<text class="cjk" x="281" y="73" text-anchor="start">玛湖</text>
<text x="310.5" y="73" font-size="13.2" text-anchor="start" >013</text>
<text class="cjk" x="391" y="113" text-anchor="start">玛湖</text>
<text x="420.5" y="113" font-size="13.2" text-anchor="start" >014</text>
<text class="cjk" x="696" y="222.5" text-anchor="start">玛湖</text>
<text x="725.5" y="222.5" font-size="13.2" text-anchor="start" >14</text>
<text x="222.6" y="132.8" font-size="13.2" text-anchor="start" >27.90 m<tspan font-size="8" dy="-4">3</tspan><tspan dy="4">/d</tspan></text>
<text x="652.5" y="253.5" font-size="13.2" text-anchor="start" >0.57 m<tspan font-size="8" dy="-4">3</tspan><tspan dy="4">/d</tspan></text>
<text x="713.6" y="74.9" font-size="12.8" text-anchor="start" >SW</text>
<path d="M682 69.8H710.5M706.5 67.6L710.7 69.8L706.5 72" fill="none" stroke="#333" stroke-width="1"/>
<text class="cjk" x="318" y="349.5" text-anchor="start">烃源岩</text>
<text class="cjk" x="619" y="411" text-anchor="start">烃源岩</text>
<text x="195" y="144" font-size="12.5" text-anchor="start" >?</text>
<text x="509.5" y="283.3" font-size="12.5" text-anchor="start" >?</text>
<rect x="284.8" y="125.1" width="5.2" height="6.2" fill="#ed1c24"/>
<rect x="706.6" y="255.5" width="5.2" height="5.2" fill="#ed1c24"/>
<rect x="88.5" y="434.4" width="36.3" height="22.1" fill="#9bd0b1" stroke="#444" stroke-width="1"/>
<rect x="173.9" y="434.4" width="36.3" height="22.1" fill="#fffbdc" stroke="#444" stroke-width="1"/>
<rect x="259.0" y="434.4" width="36.3" height="22.1" fill="#fff100" stroke="#444" stroke-width="1"/>
<rect x="344.3" y="434.4" width="36.3" height="22.1" fill="#c8895a" stroke="#444" stroke-width="1"/>
<rect x="429.7" y="434.4" width="36.3" height="22.1" fill="#8fd8f8" stroke="#444" stroke-width="1"/>
<rect x="514.8" y="434.4" width="36.3" height="22.1" fill="#fff" stroke="#444" stroke-width="1"/>
<rect x="600.5" y="434.4" width="36.3" height="22.1" fill="#fff" stroke="#444" stroke-width="1"/>
<rect x="685.6" y="434.4" width="36.3" height="22.1" fill="#fff" stroke="#444" stroke-width="1"/>
<text class="cjk" x="78.2 91.2 104.2 117.2 130.2" y="473.2" text-anchor="start">泥质砾岩、</text>
<text class="cjk" x="81.6" y="487.9" text-anchor="start">含泥砾岩</text>
<text class="cjk" x="158.5" y="473.2" text-anchor="start">砂质细砾岩</text>
<text class="cjk" x="257.5" y="473.2" text-anchor="start">含砾砂</text>
<text class="cjk" x="254 266.5 273.7 286.7" y="487.9" text-anchor="start">岩、砂岩</text>
<text class="cjk" x="330" y="473.2" text-anchor="start">洪泛沉积粉</text>
<text class="cjk" x="336.5" y="487.9" text-anchor="start">砂质泥岩</text>
<text class="cjk" x="427.5" y="473.2" text-anchor="start">湖相沉</text>
<text class="cjk" x="427.5" y="487.9" text-anchor="start">积泥岩</text>
<text class="cjk" x="505.5" y="473.2" text-anchor="start">不整合面</text>
<text class="cjk" x="578.8" y="473.2" text-anchor="start">油气运移方向</text>
<text class="cjk" x="683.5" y="473.2" text-anchor="start">试油段</text>
<line x1="618.2" y1="446.7" x2="628.1" y2="449.0" stroke="#ed1c24" stroke-width="1.3"/>
<polygon fill="#ed1c24" points="608.5,444.4 619.1,451.8 618.2,446.7 621.3,442.5" />
<path d="M521.0 446.0 L521.3 445.3 L521.6 444.8 L521.9 444.3 L522.2 444.1 L522.5 444.0 L522.8 444.2 L523.1 444.6 L523.4 445.1 L523.7 445.8 L524.0 446.4 L524.3 447.1 L524.6 447.6 L524.9 447.9 L525.2 448.0 L525.5 447.9 L525.8 447.6 L526.1 447.1 L526.4 446.4 L526.7 445.8 L527.0 445.1 L527.3 444.6 L527.6 444.2 L527.9 444.0 L528.2 444.1 L528.5 444.3 L528.8 444.8 L529.1 445.3 L529.4 446.0 L529.7 446.7 L530.0 447.2 L530.3 447.7 L530.6 447.9 L530.9 448.0 L531.2 447.8 L531.5 447.4 L531.8 446.9 L532.1 446.2 L532.4 445.6 L532.7 444.9 L533.0 444.4 L533.3 444.1 L533.6 444.0 L533.9 444.1 L534.2 444.4 L534.5 444.9 L534.8 445.6 L535.1 446.2 L535.4 446.9 L535.7 447.4 L536.0 447.8 L536.3 448.0 L536.6 447.9 L536.9 447.7 L537.2 447.2 L537.5 446.7 L537.8 446.0 L538.1 445.3 L538.4 444.8 L538.7 444.3 L539.0 444.1 L539.3 444.0 L539.6 444.2 L539.9 444.6 L540.2 445.1 L540.5 445.8 L540.8 446.4 L541.1 447.1 L541.4 447.6 L541.7 447.9 L542.0 448.0 L542.3 447.9 L542.6 447.6 L542.9 447.1 L543.2 446.4 L543.5 445.8 L543.8 445.1 L544.1 444.6 L544.4 444.2 L544.7 444.0 L545.0 444.1" fill="none" stroke="#2e3192" stroke-width="1.1"/>
<rect x="699.6" y="439.7" width="7" height="11.8" fill="#ed1c24"/>
</svg>
</body></html>
